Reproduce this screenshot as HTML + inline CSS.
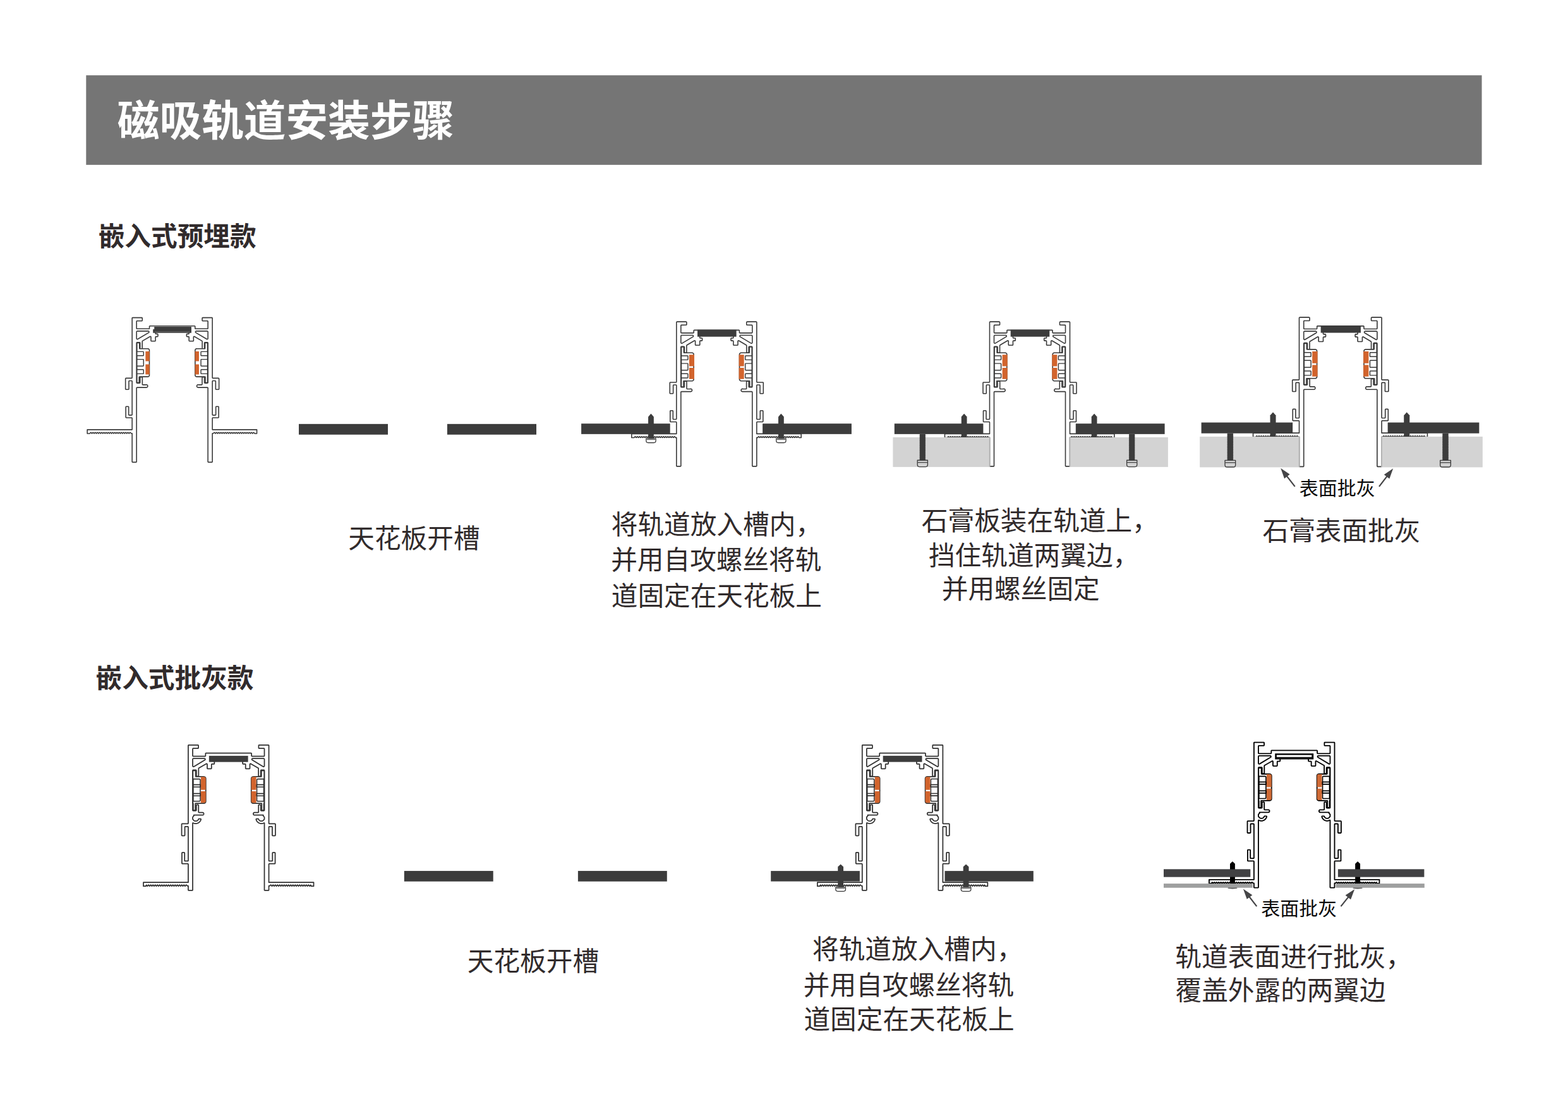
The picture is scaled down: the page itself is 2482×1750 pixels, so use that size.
<!DOCTYPE html>
<html lang="zh-CN"><head><meta charset="utf-8"><title>磁吸轨道安装步骤</title>
<style>
html,body{margin:0;padding:0;background:#fff;}
body{width:2482px;height:1750px;position:relative;overflow:hidden;font-family:"Liberation Sans","Noto Sans CJK SC",sans-serif;}
svg{position:absolute;left:0;top:0;}
svg text{font-family:"Liberation Sans","Noto Sans CJK SC",sans-serif;}
</style></head><body>
<svg width="2482" height="1750" viewBox="0 0 2482 1750">
<defs><g id="pA"><g fill="#fff" stroke="#3a3a3a" stroke-width="1.6" stroke-linejoin="round"><path d="M-73.96 96.22L-74 96.5L-74 112.5L-73.96 112.78L-73.83 113.03L-73.63 113.23L-73.38 113.36L-73.1 113.4L-69.6 113.4L-69.32 113.36L-69.07 113.23L-68.87 113.03L-68.74 112.78L-68.7 112.5L-68.7 100.64L-68.62 100.26L-68.48 100.02L-68.38 99.92L-68.14 99.78L-67.76 99.7L-64.37 99.71L-64.06 99.78L-63.82 99.92L-63.64 100.13L-63.58 100.26L-63.51 100.57L-63.5 153.16L-63.53 153.41L-63.64 153.67L-63.82 153.88L-64.06 154.02L-64.44 154.1L-68.13 154.09L-68.31 154.07L-68.57 153.96L-68.78 153.78L-68.86 153.67L-68.97 153.41L-69 153.16L-69 141.3L-69.04 141.02L-69.17 140.77L-69.37 140.57L-69.62 140.44L-69.9 140.4L-72.6 140.4L-72.88 140.44L-73.13 140.57L-73.33 140.77L-73.46 141.02L-73.5 141.3L-73.5 157.25L-73.46 157.53L-73.33 157.78L-73.13 157.98L-72.88 158.11L-72.6 158.15L-64.44 158.15L-64.19 158.18L-63.93 158.29L-63.72 158.47L-63.58 158.71L-63.5 159.09L-63.5 177.05L-134.46 177.05L-134.5 177.09L-134.5 183.11L-134.46 183.15L-130.55 183.14L-129.05 181.49L-128.91 181.41L-128.74 181.41L-128.6 181.49L-127.1 183.14L-125.6 181.49L-125.46 181.41L-125.29 181.41L-125.15 181.49L-123.65 183.14L-122.15 181.49L-122.01 181.41L-121.84 181.41L-121.7 181.49L-120.2 183.14L-118.7 181.49L-118.56 181.41L-118.39 181.41L-118.25 181.49L-116.75 183.14L-115.25 181.49L-115.11 181.41L-114.94 181.41L-114.8 181.49L-113.3 183.14L-111.8 181.49L-111.66 181.41L-111.49 181.41L-111.35 181.49L-109.85 183.14L-108.35 181.49L-108.21 181.41L-108.04 181.41L-107.9 181.49L-106.4 183.14L-104.9 181.49L-104.76 181.41L-104.59 181.41L-104.45 181.49L-102.95 183.14L-101.45 181.49L-101.31 181.41L-101.14 181.41L-101 181.49L-99.5 183.14L-98 181.49L-97.86 181.41L-97.69 181.41L-97.55 181.49L-96.05 183.14L-94.55 181.49L-94.41 181.41L-94.24 181.41L-94.1 181.49L-92.6 183.14L-91.1 181.49L-90.96 181.41L-90.79 181.41L-90.65 181.49L-89.15 183.14L-87.65 181.49L-87.51 181.41L-87.34 181.41L-87.2 181.49L-85.7 183.14L-84.2 181.49L-84.06 181.41L-83.89 181.41L-83.75 181.49L-82.25 183.14L-80.75 181.49L-80.61 181.41L-80.44 181.41L-80.3 181.49L-78.8 183.14L-77.3 181.49L-77.16 181.41L-76.99 181.41L-76.85 181.49L-75.35 183.14L-73.85 181.49L-73.71 181.41L-73.54 181.41L-73.4 181.49L-71.9 183.14L-70.4 181.49L-70.26 181.41L-70.09 181.41L-69.95 181.49L-68.45 183.14L-66.94 181.48L-66.8 181.4L-66.64 181.4L-66.5 181.48L-65 182.99L-63.5 183L-63.5 227.65L-63.46 227.93L-63.33 228.18L-63.13 228.38L-62.88 228.51L-62.6 228.55L-57.4 228.55L-57.12 228.51L-56.87 228.38L-56.67 228.18L-56.54 227.93L-56.5 227.65L-56.5 111.24L-56.47 110.99L-56.36 110.73L-56.18 110.52L-55.94 110.38L-55.56 110.3L-41.06 110.3L-40.55 110.24L-40.01 110.05L-39.81 109.93L-39.37 109.56L-39.05 109.09L-38.86 108.55L-38.82 108.22L-38.86 107.65L-39.05 107.11L-39.17 106.91L-39.54 106.47L-39.81 106.27L-40.32 106.02L-40.88 105.92L-41.12 105.92L-42.09 106.1L-46.36 106.1L-46.61 106.07L-46.87 105.96L-46.98 105.88L-47.16 105.67L-47.27 105.41L-47.3 105.16L-47.3 94.8L-47.34 94.52L-47.47 94.27L-47.67 94.07L-47.92 93.94L-48.2 93.9L-50 93.9L-50.28 93.94L-50.53 94.07L-50.73 94.27L-50.86 94.52L-50.9 94.8L-50.9 102.41L-50.98 102.79L-51.12 103.03L-51.22 103.13L-51.46 103.27L-51.84 103.35L-55.56 103.35L-55.94 103.27L-56.18 103.13L-56.36 102.92L-56.47 102.66L-56.5 102.41L-56.5 39.94L-56.47 39.69L-56.36 39.43L-56.18 39.22L-55.94 39.08L-55.56 39L-51.84 39L-51.46 39.08L-51.22 39.22L-51.12 39.32L-50.98 39.56L-50.9 39.94L-50.9 48L-50.86 48.28L-50.73 48.53L-50.53 48.73L-50.28 48.86L-50 48.9L-48.35 48.9L-48.07 48.86L-47.82 48.73L-47.62 48.53L-47.49 48.28L-47.45 48L-47.45 37.47L-47.41 37.2L-47.28 36.92L-46.97 36.63L-35.08 29.71L-34.87 29.62L-34.6 29.58L-34.21 29.67L-33.9 29.92L-33.73 30.27L-33.7 30.51L-33.7 36.05L-33.66 36.33L-33.53 36.58L-33.33 36.78L-33.08 36.91L-32.8 36.95L-27.46 36.95L-27.18 36.91L-26.93 36.78L-26.73 36.58L-26.6 36.33L-26.56 36.05L-26.56 30.74L-26.53 30.49L-26.42 30.23L-26.34 30.12L-26.13 29.94L-25.87 29.83L-25.69 29.81L-23.6 29.8L-23.32 29.76L-23.07 29.63L-22.87 29.43L-22.74 29.18L-22.7 28.9L-22.7 26.5L-22.74 26.22L-22.87 25.97L-23.07 25.77L-23.32 25.64L-23.6 25.6L-25.62 25.6L-25.87 25.57L-26.13 25.46L-26.24 25.38L-26.42 25.17L-26.48 25.04L-26.56 24.66L-26.55 20.87L-26.48 20.56L-26.34 20.32L-26.13 20.14L-25.87 20.03L-25.62 20L25.62 20L25.87 20.03L26.13 20.14L26.34 20.32L26.48 20.56L26.55 20.87L26.56 24.66L26.48 25.04L26.42 25.17L26.24 25.38L26.13 25.46L25.87 25.57L25.62 25.6L23.6 25.6L23.32 25.64L23.07 25.77L22.87 25.97L22.74 26.22L22.7 26.5L22.7 28.9L22.74 29.18L22.87 29.43L23.07 29.63L23.32 29.76L23.6 29.8L25.69 29.81L25.87 29.83L26.13 29.94L26.24 30.02L26.42 30.23L26.53 30.49L26.56 30.74L26.56 36.05L26.6 36.33L26.73 36.58L26.93 36.78L27.18 36.91L27.46 36.95L32.8 36.95L33.08 36.91L33.33 36.78L33.53 36.58L33.66 36.33L33.7 36.05L33.7 30.51L33.73 30.27L33.9 29.92L34.21 29.67L34.6 29.58L34.87 29.62L35.08 29.71L46.97 36.63L47.28 36.92L47.41 37.2L47.45 37.47L47.45 48L47.49 48.28L47.62 48.53L47.82 48.73L48.07 48.86L48.35 48.9L50 48.9L50.28 48.86L50.53 48.73L50.73 48.53L50.86 48.28L50.9 48L50.9 39.94L50.98 39.56L51.12 39.32L51.22 39.22L51.46 39.08L51.84 39L55.56 39L55.81 39.03L56.07 39.14L56.28 39.32L56.42 39.56L56.5 39.94L56.5 102.41L56.47 102.66L56.36 102.92L56.18 103.13L55.94 103.27L55.56 103.35L51.84 103.35L51.46 103.27L51.22 103.13L51.12 103.03L50.98 102.79L50.9 102.41L50.9 94.8L50.86 94.52L50.73 94.27L50.53 94.07L50.28 93.94L50 93.9L48.2 93.9L47.92 93.94L47.67 94.07L47.47 94.27L47.34 94.52L47.3 94.8L47.3 105.16L47.27 105.41L47.16 105.67L46.98 105.88L46.87 105.96L46.61 106.07L46.36 106.1L42.09 106.1L41.12 105.92L40.88 105.92L40.32 106.02L39.81 106.27L39.54 106.47L39.17 106.91L39.05 107.11L38.86 107.65L38.82 108.22L38.86 108.55L39.05 109.09L39.37 109.56L39.81 109.93L40.01 110.05L40.55 110.24L41.06 110.3L55.56 110.3L55.94 110.38L56.18 110.52L56.36 110.73L56.42 110.86L56.49 111.17L56.5 227.65L56.54 227.93L56.67 228.18L56.87 228.38L57.12 228.51L57.4 228.55L62.6 228.55L62.88 228.51L63.13 228.38L63.33 228.18L63.46 227.93L63.5 227.65L63.5 183L65 182.99L66.5 181.48L66.64 181.4L66.8 181.4L66.94 181.48L68.45 183.14L69.95 181.49L70.09 181.41L70.26 181.41L70.4 181.49L71.9 183.14L73.4 181.49L73.54 181.41L73.71 181.41L73.85 181.49L75.35 183.14L76.85 181.49L76.99 181.41L77.16 181.41L77.3 181.49L78.8 183.14L80.3 181.49L80.44 181.41L80.61 181.41L80.75 181.49L82.25 183.14L83.75 181.49L83.89 181.41L84.06 181.41L84.2 181.49L85.7 183.14L87.2 181.49L87.34 181.41L87.51 181.41L87.65 181.49L89.15 183.14L90.65 181.49L90.79 181.41L90.96 181.41L91.1 181.49L92.6 183.14L94.1 181.49L94.24 181.41L94.41 181.41L94.55 181.49L96.05 183.14L97.55 181.49L97.69 181.41L97.86 181.41L98 181.49L99.5 183.14L101 181.49L101.14 181.41L101.31 181.41L101.45 181.49L102.95 183.14L104.45 181.49L104.59 181.41L104.76 181.41L104.9 181.49L106.4 183.14L107.9 181.49L108.04 181.41L108.21 181.41L108.35 181.49L109.85 183.14L111.35 181.49L111.49 181.41L111.66 181.41L111.8 181.49L113.3 183.14L114.8 181.49L114.94 181.41L115.11 181.41L115.25 181.49L116.75 183.14L118.25 181.49L118.39 181.41L118.56 181.41L118.7 181.49L120.2 183.14L121.7 181.49L121.84 181.41L122.01 181.41L122.15 181.49L123.65 183.14L125.15 181.49L125.29 181.41L125.46 181.41L125.6 181.49L127.1 183.14L128.6 181.5L128.74 181.41L128.91 181.41L129.05 181.5L130.5 183.14L133.89 183.14L133.9 177.09L133.86 177.05L63.5 177.05L63.5 159.09L63.58 158.71L63.72 158.47L63.93 158.29L64.19 158.18L64.44 158.15L72.6 158.15L72.88 158.11L73.13 157.98L73.33 157.78L73.46 157.53L73.5 157.25L73.5 141.3L73.46 141.02L73.33 140.77L73.13 140.57L72.88 140.44L72.6 140.4L69.9 140.4L69.62 140.44L69.37 140.57L69.17 140.77L69.04 141.02L69 141.3L69 153.16L68.97 153.41L68.86 153.67L68.78 153.78L68.57 153.96L68.31 154.07L68.13 154.09L64.44 154.1L64.06 154.02L63.82 153.88L63.64 153.67L63.53 153.41L63.5 153.16L63.51 100.57L63.58 100.26L63.64 100.13L63.82 99.92L64.06 99.78L64.37 99.71L67.76 99.7L68.14 99.78L68.38 99.92L68.48 100.02L68.62 100.26L68.7 100.64L68.7 112.5L68.74 112.78L68.87 113.03L69.07 113.23L69.32 113.36L69.6 113.4L73.1 113.4L73.38 113.36L73.63 113.23L73.83 113.03L73.96 112.78L74 112.5L74 96.5L73.96 96.22L73.83 95.97L73.63 95.77L73.38 95.64L73.1 95.6L64.37 95.59L64.06 95.52L63.82 95.38L63.64 95.17L63.58 95.04L63.51 94.73L63.5 0.7L63.46 0.42L63.33 0.17L63.13 -0.03L62.88 -0.16L62.6 -0.2L48.35 -0.2L48.07 -0.16L47.82 -0.03L47.62 0.17L47.49 0.42L47.45 0.7L47.45 4.07L47.49 4.35L47.62 4.6L47.82 4.8L48.07 4.93L48.35 4.97L55.63 4.98L55.81 5L56.07 5.11L56.28 5.29L56.42 5.53L56.5 5.91L56.5 16.56L56.42 16.94L56.28 17.18L56.18 17.28L55.94 17.42L55.56 17.5L37.04 17.5L36.79 17.47L36.53 17.36L36.32 17.18L36.24 17.07L36.13 16.81L36.1 16.56L36.1 13.9L36.06 13.62L35.93 13.37L35.73 13.17L35.48 13.04L35.2 13L-35.2 13L-35.48 13.04L-35.73 13.17L-35.93 13.37L-36.06 13.62L-36.1 13.9L-36.1 16.56L-36.13 16.81L-36.24 17.07L-36.32 17.18L-36.53 17.36L-36.79 17.47L-37.04 17.5L-55.63 17.49L-55.94 17.42L-56.18 17.28L-56.28 17.18L-56.42 16.94L-56.5 16.56L-56.5 5.91L-56.42 5.53L-56.28 5.29L-56.07 5.11L-55.81 5L-55.63 4.98L-48.35 4.97L-48.07 4.93L-47.82 4.8L-47.62 4.6L-47.49 4.35L-47.45 4.07L-47.45 0.7L-47.49 0.42L-47.62 0.17L-47.82 -0.03L-48.07 -0.16L-48.35 -0.2L-62.6 -0.2L-62.88 -0.16L-63.13 -0.03L-63.33 0.17L-63.46 0.42L-63.5 0.7L-63.51 94.73L-63.58 95.04L-63.64 95.17L-63.82 95.38L-64.06 95.52L-64.37 95.59L-73.1 95.6L-73.38 95.64L-73.63 95.77L-73.83 95.97ZM-37.24 21.37L-36.95 21.67L-36.77 22.06L-36.73 22.47L-36.82 22.89L-37.04 23.25L-37.36 23.52L-54.54 33.73L-54.9 33.88L-55.29 33.91L-55.67 33.83L-56 33.64L-56.27 33.35L-56.44 33L-56.5 32.61L-56.5 22.4L-56.44 22L-56.25 21.64L-55.96 21.35L-55.6 21.16L-55.2 21.1L-38.03 21.1L-37.61 21.17ZM38.03 21.1L55.2 21.1L55.6 21.16L55.96 21.35L56.25 21.64L56.44 22L56.5 22.4L56.5 32.61L56.44 33L56.27 33.35L56 33.64L55.67 33.83L55.29 33.91L54.9 33.88L54.54 33.73L37.36 23.52L37.04 23.25L36.82 22.89L36.73 22.47L36.77 22.06L36.95 21.67L37.24 21.37L37.61 21.17Z"/><path d="M-55.4 39.7L-55.55 39.72L-55.69 39.8L-55.8 39.91L-55.88 40.05L-55.9 40.2L-55.9 102.3L-55.88 102.45L-55.8 102.59L-55.69 102.7L-55.55 102.78L-55.4 102.8L-52.9 102.8L-52.75 102.78L-52.61 102.7L-52.5 102.59L-52.42 102.45L-52.4 102.3L-52.4 93.87L-52.32 93.59L-52.16 93.43L-51.88 93.35L-38.76 93.34L-38.07 93.24L-37.34 92.89L-36.75 92.33L-36.36 91.62L-36.31 91.48L-36.2 90.71L-36.2 51.54L-36.31 50.77L-36.36 50.63L-36.75 49.92L-37.34 49.36L-38.07 49.01L-38.84 48.9L-51.38 48.9L-51.66 48.82L-51.82 48.66L-51.9 48.38L-51.9 40.2L-51.92 40.05L-52 39.91L-52.11 39.8L-52.25 39.72L-52.4 39.7ZM55.4 39.7L55.55 39.72L55.69 39.8L55.8 39.91L55.88 40.05L55.9 40.2L55.9 102.3L55.88 102.45L55.8 102.59L55.69 102.7L55.55 102.78L55.4 102.8L52.9 102.8L52.75 102.78L52.61 102.7L52.5 102.59L52.42 102.45L52.4 102.3L52.4 93.87L52.32 93.59L52.16 93.43L51.88 93.35L38.76 93.34L38.07 93.24L37.34 92.89L36.75 92.33L36.36 91.62L36.31 91.48L36.2 90.71L36.2 51.54L36.31 50.77L36.36 50.63L36.75 49.92L37.34 49.36L38.07 49.01L38.84 48.9L51.38 48.9L51.66 48.82L51.82 48.66L51.9 48.38L51.9 40.2L51.92 40.05L52 39.91L52.11 39.8L52.25 39.72L52.4 39.7Z"/><path d="M-45.4 54.4L-45.44 54.15L-45.55 53.93L-45.73 53.75L-45.95 53.64L-46.2 53.6L-55.1 53.6L-55.35 53.64L-55.57 53.75L-55.75 53.93L-55.86 54.15L-55.9 54.4L-55.9 59.2L-55.86 59.45L-55.75 59.67L-55.57 59.85L-55.35 59.96L-55.1 60L-46.2 60L-45.95 59.96L-45.73 59.85L-45.55 59.67L-45.44 59.45L-45.4 59.2ZM45.4 54.4L45.44 54.15L45.55 53.93L45.73 53.75L45.95 53.64L46.2 53.6L55.1 53.6L55.35 53.64L55.57 53.75L55.75 53.93L55.86 54.15L55.9 54.4L55.9 59.2L55.86 59.45L55.75 59.67L55.57 59.85L55.35 59.96L55.1 60L46.2 60L45.95 59.96L45.73 59.85L45.55 59.67L45.44 59.45L45.4 59.2ZM-45.4 66.6L-45.44 66.35L-45.55 66.13L-45.73 65.95L-45.95 65.84L-46.2 65.8L-55.1 65.8L-55.35 65.84L-55.57 65.95L-55.75 66.13L-55.86 66.35L-55.9 66.6L-55.9 75.6L-55.86 75.85L-55.75 76.07L-55.57 76.25L-55.35 76.36L-55.1 76.4L-46.2 76.4L-45.95 76.36L-45.73 76.25L-45.55 76.07L-45.44 75.85L-45.4 75.6ZM45.4 66.6L45.44 66.35L45.55 66.13L45.73 65.95L45.95 65.84L46.2 65.8L55.1 65.8L55.35 65.84L55.57 65.95L55.75 66.13L55.86 66.35L55.9 66.6L55.9 75.6L55.86 75.85L55.75 76.07L55.57 76.25L55.35 76.36L55.1 76.4L46.2 76.4L45.95 76.36L45.73 76.25L45.55 76.07L45.44 75.85L45.4 75.6ZM-45.4 82.75L-45.44 82.5L-45.55 82.28L-45.73 82.1L-45.95 81.99L-46.2 81.95L-55.1 81.95L-55.35 81.99L-55.57 82.1L-55.75 82.28L-55.86 82.5L-55.9 82.75L-55.9 87.8L-55.86 88.05L-55.75 88.27L-55.57 88.45L-55.35 88.56L-55.1 88.6L-46.2 88.6L-45.95 88.56L-45.73 88.45L-45.55 88.27L-45.44 88.05L-45.4 87.8ZM45.4 82.75L45.44 82.5L45.55 82.28L45.73 82.1L45.95 81.99L46.2 81.95L55.1 81.95L55.35 81.99L55.57 82.1L55.75 82.28L55.86 82.5L55.9 82.75L55.9 87.8L55.86 88.05L55.75 88.27L55.57 88.45L55.35 88.56L55.1 88.6L46.2 88.6L45.95 88.56L45.73 88.45L45.55 88.27L45.44 88.05L45.4 87.8Z" stroke-width="1.4400000000000002"/></g><path fill="#d2642d" d="M-36 53.3L-36 68.6L-42.3 68.6L-42.3 53.3ZM36 53.3L36 68.6L42.3 68.6L42.3 53.3ZM-36 73.6L-36 89.7L-42.3 89.7L-42.3 73.6ZM36 73.6L36 89.7L42.3 89.7L42.3 73.6Z"/><path fill="#3c3c3c" d="M-28.45 14.25H30.30V24.00H-30.45V18.25H-28.45Z"/><path d="M-27.85 22.00H27.70" stroke="#909090" stroke-width="0.55" fill="none"/></g><g id="pA2"><g fill="#fff" stroke="#3a3a3a" stroke-width="1.6" stroke-linejoin="round"><path d="M-73.96 96.22L-74 96.5L-74 112.5L-73.96 112.78L-73.83 113.03L-73.63 113.23L-73.38 113.36L-73.1 113.4L-69.6 113.4L-69.32 113.36L-69.07 113.23L-68.87 113.03L-68.74 112.78L-68.7 112.5L-68.7 100.64L-68.62 100.26L-68.48 100.02L-68.38 99.92L-68.14 99.78L-67.76 99.7L-64.37 99.71L-64.06 99.78L-63.82 99.92L-63.64 100.13L-63.58 100.26L-63.51 100.57L-63.5 153.16L-63.53 153.41L-63.64 153.67L-63.82 153.88L-64.06 154.02L-64.44 154.1L-68.13 154.09L-68.31 154.07L-68.57 153.96L-68.78 153.78L-68.86 153.67L-68.97 153.41L-69 153.16L-69 141.3L-69.04 141.02L-69.17 140.77L-69.37 140.57L-69.62 140.44L-69.9 140.4L-72.6 140.4L-72.88 140.44L-73.13 140.57L-73.33 140.77L-73.46 141.02L-73.5 141.3L-73.5 157.25L-73.46 157.53L-73.33 157.78L-73.13 157.98L-72.88 158.11L-72.6 158.15L-64.44 158.15L-64.19 158.18L-63.93 158.29L-63.72 158.47L-63.58 158.71L-63.5 159.09L-63.5 177.05L-134.46 177.05L-134.5 177.09L-134.5 183.11L-134.46 183.15L-130.55 183.14L-129.05 181.49L-128.91 181.41L-128.74 181.41L-128.6 181.49L-127.1 183.14L-125.6 181.49L-125.46 181.41L-125.29 181.41L-125.15 181.49L-123.65 183.14L-122.15 181.49L-122.01 181.41L-121.84 181.41L-121.7 181.49L-120.2 183.14L-118.7 181.49L-118.56 181.41L-118.39 181.41L-118.25 181.49L-116.75 183.14L-115.25 181.49L-115.11 181.41L-114.94 181.41L-114.8 181.49L-113.3 183.14L-111.8 181.49L-111.66 181.41L-111.49 181.41L-111.35 181.49L-109.85 183.14L-108.35 181.49L-108.21 181.41L-108.04 181.41L-107.9 181.49L-106.4 183.14L-104.9 181.49L-104.76 181.41L-104.59 181.41L-104.45 181.49L-102.95 183.14L-101.45 181.49L-101.31 181.41L-101.14 181.41L-101 181.49L-99.5 183.14L-98 181.49L-97.86 181.41L-97.69 181.41L-97.55 181.49L-96.05 183.14L-94.55 181.49L-94.41 181.41L-94.24 181.41L-94.1 181.49L-92.6 183.14L-91.1 181.49L-90.96 181.41L-90.79 181.41L-90.65 181.49L-89.15 183.14L-87.65 181.49L-87.51 181.41L-87.34 181.41L-87.2 181.49L-85.7 183.14L-84.2 181.49L-84.06 181.41L-83.89 181.41L-83.75 181.49L-82.25 183.14L-80.75 181.49L-80.61 181.41L-80.44 181.41L-80.3 181.49L-78.8 183.14L-77.3 181.49L-77.16 181.41L-76.99 181.41L-76.85 181.49L-75.35 183.14L-73.85 181.49L-73.71 181.41L-73.54 181.41L-73.4 181.49L-71.9 183.14L-70.4 181.49L-70.26 181.41L-70.09 181.41L-69.95 181.49L-68.45 183.14L-66.94 181.48L-66.8 181.4L-66.64 181.4L-66.5 181.48L-65 182.99L-63.5 183L-63.5 227.65L-63.46 227.93L-63.33 228.18L-63.13 228.38L-62.88 228.51L-62.6 228.55L-57.4 228.55L-57.12 228.51L-56.87 228.38L-56.67 228.18L-56.54 227.93L-56.5 227.65L-56.5 111.24L-56.47 110.99L-56.36 110.73L-56.18 110.52L-55.94 110.38L-55.56 110.3L-41.06 110.3L-40.55 110.24L-40.01 110.05L-39.81 109.93L-39.37 109.56L-39.05 109.09L-38.86 108.55L-38.82 108.22L-38.86 107.65L-39.05 107.11L-39.17 106.91L-39.54 106.47L-39.81 106.27L-40.32 106.02L-40.88 105.92L-41.12 105.92L-42.09 106.1L-46.36 106.1L-46.61 106.07L-46.87 105.96L-46.98 105.88L-47.16 105.67L-47.27 105.41L-47.3 105.16L-47.3 94.8L-47.34 94.52L-47.47 94.27L-47.67 94.07L-47.92 93.94L-48.2 93.9L-50 93.9L-50.28 93.94L-50.53 94.07L-50.73 94.27L-50.86 94.52L-50.9 94.8L-50.9 102.41L-50.98 102.79L-51.12 103.03L-51.22 103.13L-51.46 103.27L-51.84 103.35L-55.56 103.35L-55.94 103.27L-56.18 103.13L-56.36 102.92L-56.47 102.66L-56.5 102.41L-56.5 39.94L-56.47 39.69L-56.36 39.43L-56.18 39.22L-55.94 39.08L-55.56 39L-51.84 39L-51.46 39.08L-51.22 39.22L-51.12 39.32L-50.98 39.56L-50.9 39.94L-50.9 48L-50.86 48.28L-50.73 48.53L-50.53 48.73L-50.28 48.86L-50 48.9L-48.35 48.9L-48.07 48.86L-47.82 48.73L-47.62 48.53L-47.49 48.28L-47.45 48L-47.45 37.47L-47.41 37.2L-47.28 36.92L-46.97 36.63L-35.08 29.71L-34.87 29.62L-34.6 29.58L-34.21 29.67L-33.9 29.92L-33.73 30.27L-33.7 30.51L-33.7 36.05L-33.66 36.33L-33.53 36.58L-33.33 36.78L-33.08 36.91L-32.8 36.95L-27.46 36.95L-27.18 36.91L-26.93 36.78L-26.73 36.58L-26.6 36.33L-26.56 36.05L-26.56 30.74L-26.53 30.49L-26.42 30.23L-26.34 30.12L-26.13 29.94L-25.87 29.83L-25.69 29.81L-23.6 29.8L-23.32 29.76L-23.07 29.63L-22.87 29.43L-22.74 29.18L-22.7 28.9L-22.7 26.5L-22.74 26.22L-22.87 25.97L-23.07 25.77L-23.32 25.64L-23.6 25.6L-25.62 25.6L-25.87 25.57L-26.13 25.46L-26.24 25.38L-26.42 25.17L-26.48 25.04L-26.56 24.66L-26.55 20.87L-26.48 20.56L-26.34 20.32L-26.13 20.14L-25.87 20.03L-25.62 20L25.62 20L25.87 20.03L26.13 20.14L26.34 20.32L26.48 20.56L26.55 20.87L26.56 24.66L26.48 25.04L26.42 25.17L26.24 25.38L26.13 25.46L25.87 25.57L25.62 25.6L23.6 25.6L23.32 25.64L23.07 25.77L22.87 25.97L22.74 26.22L22.7 26.5L22.7 28.9L22.74 29.18L22.87 29.43L23.07 29.63L23.32 29.76L23.6 29.8L25.69 29.81L25.87 29.83L26.13 29.94L26.24 30.02L26.42 30.23L26.53 30.49L26.56 30.74L26.56 36.05L26.6 36.33L26.73 36.58L26.93 36.78L27.18 36.91L27.46 36.95L32.8 36.95L33.08 36.91L33.33 36.78L33.53 36.58L33.66 36.33L33.7 36.05L33.7 30.51L33.73 30.27L33.9 29.92L34.21 29.67L34.6 29.58L34.87 29.62L35.08 29.71L46.97 36.63L47.28 36.92L47.41 37.2L47.45 37.47L47.45 48L47.49 48.28L47.62 48.53L47.82 48.73L48.07 48.86L48.35 48.9L50 48.9L50.28 48.86L50.53 48.73L50.73 48.53L50.86 48.28L50.9 48L50.9 39.94L50.98 39.56L51.12 39.32L51.22 39.22L51.46 39.08L51.84 39L55.56 39L55.81 39.03L56.07 39.14L56.28 39.32L56.42 39.56L56.5 39.94L56.5 102.41L56.47 102.66L56.36 102.92L56.18 103.13L55.94 103.27L55.56 103.35L51.84 103.35L51.46 103.27L51.22 103.13L51.12 103.03L50.98 102.79L50.9 102.41L50.9 94.8L50.86 94.52L50.73 94.27L50.53 94.07L50.28 93.94L50 93.9L48.2 93.9L47.92 93.94L47.67 94.07L47.47 94.27L47.34 94.52L47.3 94.8L47.3 105.16L47.27 105.41L47.16 105.67L46.98 105.88L46.87 105.96L46.61 106.07L46.36 106.1L42.09 106.1L41.12 105.92L40.88 105.92L40.32 106.02L39.81 106.27L39.54 106.47L39.17 106.91L39.05 107.11L38.86 107.65L38.82 108.22L38.86 108.55L39.05 109.09L39.37 109.56L39.81 109.93L40.01 110.05L40.55 110.24L41.06 110.3L55.56 110.3L55.94 110.38L56.18 110.52L56.36 110.73L56.42 110.86L56.49 111.17L56.5 227.65L56.54 227.93L56.67 228.18L56.87 228.38L57.12 228.51L57.4 228.55L62.6 228.55L62.88 228.51L63.13 228.38L63.33 228.18L63.46 227.93L63.5 227.65L63.5 183L65 182.99L66.5 181.48L66.64 181.4L66.8 181.4L66.94 181.48L68.45 183.14L69.95 181.49L70.09 181.41L70.26 181.41L70.4 181.49L71.9 183.14L73.4 181.49L73.54 181.41L73.71 181.41L73.85 181.49L75.35 183.14L76.85 181.49L76.99 181.41L77.16 181.41L77.3 181.49L78.8 183.14L80.3 181.49L80.44 181.41L80.61 181.41L80.75 181.49L82.25 183.14L83.75 181.49L83.89 181.41L84.06 181.41L84.2 181.49L85.7 183.14L87.2 181.49L87.34 181.41L87.51 181.41L87.65 181.49L89.15 183.14L90.65 181.49L90.79 181.41L90.96 181.41L91.1 181.49L92.6 183.14L94.1 181.49L94.24 181.41L94.41 181.41L94.55 181.49L96.05 183.14L97.55 181.49L97.69 181.41L97.86 181.41L98 181.49L99.5 183.14L101 181.49L101.14 181.41L101.31 181.41L101.45 181.49L102.95 183.14L104.45 181.49L104.59 181.41L104.76 181.41L104.9 181.49L106.4 183.14L107.9 181.49L108.04 181.41L108.21 181.41L108.35 181.49L109.85 183.14L111.35 181.49L111.49 181.41L111.66 181.41L111.8 181.49L113.3 183.14L114.8 181.49L114.94 181.41L115.11 181.41L115.25 181.49L116.75 183.14L118.25 181.49L118.39 181.41L118.56 181.41L118.7 181.49L120.2 183.14L121.7 181.49L121.84 181.41L122.01 181.41L122.15 181.49L123.65 183.14L125.15 181.49L125.29 181.41L125.46 181.41L125.6 181.49L127.1 183.14L128.6 181.5L128.74 181.41L128.91 181.41L129.05 181.5L130.5 183.14L133.89 183.14L133.9 177.09L133.86 177.05L63.5 177.05L63.5 159.09L63.58 158.71L63.72 158.47L63.93 158.29L64.19 158.18L64.44 158.15L72.6 158.15L72.88 158.11L73.13 157.98L73.33 157.78L73.46 157.53L73.5 157.25L73.5 141.3L73.46 141.02L73.33 140.77L73.13 140.57L72.88 140.44L72.6 140.4L69.9 140.4L69.62 140.44L69.37 140.57L69.17 140.77L69.04 141.02L69 141.3L69 153.16L68.97 153.41L68.86 153.67L68.78 153.78L68.57 153.96L68.31 154.07L68.13 154.09L64.44 154.1L64.06 154.02L63.82 153.88L63.64 153.67L63.53 153.41L63.5 153.16L63.51 100.57L63.58 100.26L63.64 100.13L63.82 99.92L64.06 99.78L64.37 99.71L67.76 99.7L68.14 99.78L68.38 99.92L68.48 100.02L68.62 100.26L68.7 100.64L68.7 112.5L68.74 112.78L68.87 113.03L69.07 113.23L69.32 113.36L69.6 113.4L73.1 113.4L73.38 113.36L73.63 113.23L73.83 113.03L73.96 112.78L74 112.5L74 96.5L73.96 96.22L73.83 95.97L73.63 95.77L73.38 95.64L73.1 95.6L64.37 95.59L64.06 95.52L63.82 95.38L63.64 95.17L63.58 95.04L63.51 94.73L63.5 0.7L63.46 0.42L63.33 0.17L63.13 -0.03L62.88 -0.16L62.6 -0.2L48.35 -0.2L48.07 -0.16L47.82 -0.03L47.62 0.17L47.49 0.42L47.45 0.7L47.45 4.07L47.49 4.35L47.62 4.6L47.82 4.8L48.07 4.93L48.35 4.97L55.63 4.98L55.81 5L56.07 5.11L56.28 5.29L56.42 5.53L56.5 5.91L56.5 16.56L56.42 16.94L56.28 17.18L56.18 17.28L55.94 17.42L55.56 17.5L37.04 17.5L36.79 17.47L36.53 17.36L36.32 17.18L36.24 17.07L36.13 16.81L36.1 16.56L36.1 13.9L36.06 13.62L35.93 13.37L35.73 13.17L35.48 13.04L35.2 13L-35.2 13L-35.48 13.04L-35.73 13.17L-35.93 13.37L-36.06 13.62L-36.1 13.9L-36.1 16.56L-36.13 16.81L-36.24 17.07L-36.32 17.18L-36.53 17.36L-36.79 17.47L-37.04 17.5L-55.63 17.49L-55.94 17.42L-56.18 17.28L-56.28 17.18L-56.42 16.94L-56.5 16.56L-56.5 5.91L-56.42 5.53L-56.28 5.29L-56.07 5.11L-55.81 5L-55.63 4.98L-48.35 4.97L-48.07 4.93L-47.82 4.8L-47.62 4.6L-47.49 4.35L-47.45 4.07L-47.45 0.7L-47.49 0.42L-47.62 0.17L-47.82 -0.03L-48.07 -0.16L-48.35 -0.2L-62.6 -0.2L-62.88 -0.16L-63.13 -0.03L-63.33 0.17L-63.46 0.42L-63.5 0.7L-63.51 94.73L-63.58 95.04L-63.64 95.17L-63.82 95.38L-64.06 95.52L-64.37 95.59L-73.1 95.6L-73.38 95.64L-73.63 95.77L-73.83 95.97ZM-37.24 21.37L-36.95 21.67L-36.77 22.06L-36.73 22.47L-36.82 22.89L-37.04 23.25L-37.36 23.52L-54.54 33.73L-54.9 33.88L-55.29 33.91L-55.67 33.83L-56 33.64L-56.27 33.35L-56.44 33L-56.5 32.61L-56.5 22.4L-56.44 22L-56.25 21.64L-55.96 21.35L-55.6 21.16L-55.2 21.1L-38.03 21.1L-37.61 21.17ZM38.03 21.1L55.2 21.1L55.6 21.16L55.96 21.35L56.25 21.64L56.44 22L56.5 22.4L56.5 32.61L56.44 33L56.27 33.35L56 33.64L55.67 33.83L55.29 33.91L54.9 33.88L54.54 33.73L37.36 23.52L37.04 23.25L36.82 22.89L36.73 22.47L36.77 22.06L36.95 21.67L37.24 21.37L37.61 21.17Z"/><path d="M-55.4 39.7L-55.55 39.72L-55.69 39.8L-55.8 39.91L-55.88 40.05L-55.9 40.2L-55.9 102.3L-55.88 102.45L-55.8 102.59L-55.69 102.7L-55.55 102.78L-55.4 102.8L-52.9 102.8L-52.75 102.78L-52.61 102.7L-52.5 102.59L-52.42 102.45L-52.4 102.3L-52.4 93.87L-52.32 93.59L-52.16 93.43L-51.88 93.35L-38.76 93.34L-38.07 93.24L-37.34 92.89L-36.75 92.33L-36.36 91.62L-36.31 91.48L-36.2 90.71L-36.2 51.54L-36.31 50.77L-36.36 50.63L-36.75 49.92L-37.34 49.36L-38.07 49.01L-38.84 48.9L-51.38 48.9L-51.66 48.82L-51.82 48.66L-51.9 48.38L-51.9 40.2L-51.92 40.05L-52 39.91L-52.11 39.8L-52.25 39.72L-52.4 39.7ZM55.4 39.7L55.55 39.72L55.69 39.8L55.8 39.91L55.88 40.05L55.9 40.2L55.9 102.3L55.88 102.45L55.8 102.59L55.69 102.7L55.55 102.78L55.4 102.8L52.9 102.8L52.75 102.78L52.61 102.7L52.5 102.59L52.42 102.45L52.4 102.3L52.4 93.87L52.32 93.59L52.16 93.43L51.88 93.35L38.76 93.34L38.07 93.24L37.34 92.89L36.75 92.33L36.36 91.62L36.31 91.48L36.2 90.71L36.2 51.54L36.31 50.77L36.36 50.63L36.75 49.92L37.34 49.36L38.07 49.01L38.84 48.9L51.38 48.9L51.66 48.82L51.82 48.66L51.9 48.38L51.9 40.2L51.92 40.05L52 39.91L52.11 39.8L52.25 39.72L52.4 39.7Z"/><path d="M-45.4 54.4L-45.44 54.15L-45.55 53.93L-45.73 53.75L-45.95 53.64L-46.2 53.6L-55.1 53.6L-55.35 53.64L-55.57 53.75L-55.75 53.93L-55.86 54.15L-55.9 54.4L-55.9 59.2L-55.86 59.45L-55.75 59.67L-55.57 59.85L-55.35 59.96L-55.1 60L-46.2 60L-45.95 59.96L-45.73 59.85L-45.55 59.67L-45.44 59.45L-45.4 59.2ZM45.4 54.4L45.44 54.15L45.55 53.93L45.73 53.75L45.95 53.64L46.2 53.6L55.1 53.6L55.35 53.64L55.57 53.75L55.75 53.93L55.86 54.15L55.9 54.4L55.9 59.2L55.86 59.45L55.75 59.67L55.57 59.85L55.35 59.96L55.1 60L46.2 60L45.95 59.96L45.73 59.85L45.55 59.67L45.44 59.45L45.4 59.2ZM-45.4 66.6L-45.44 66.35L-45.55 66.13L-45.73 65.95L-45.95 65.84L-46.2 65.8L-55.1 65.8L-55.35 65.84L-55.57 65.95L-55.75 66.13L-55.86 66.35L-55.9 66.6L-55.9 75.6L-55.86 75.85L-55.75 76.07L-55.57 76.25L-55.35 76.36L-55.1 76.4L-46.2 76.4L-45.95 76.36L-45.73 76.25L-45.55 76.07L-45.44 75.85L-45.4 75.6ZM45.4 66.6L45.44 66.35L45.55 66.13L45.73 65.95L45.95 65.84L46.2 65.8L55.1 65.8L55.35 65.84L55.57 65.95L55.75 66.13L55.86 66.35L55.9 66.6L55.9 75.6L55.86 75.85L55.75 76.07L55.57 76.25L55.35 76.36L55.1 76.4L46.2 76.4L45.95 76.36L45.73 76.25L45.55 76.07L45.44 75.85L45.4 75.6ZM-45.4 82.75L-45.44 82.5L-45.55 82.28L-45.73 82.1L-45.95 81.99L-46.2 81.95L-55.1 81.95L-55.35 81.99L-55.57 82.1L-55.75 82.28L-55.86 82.5L-55.9 82.75L-55.9 87.8L-55.86 88.05L-55.75 88.27L-55.57 88.45L-55.35 88.56L-55.1 88.6L-46.2 88.6L-45.95 88.56L-45.73 88.45L-45.55 88.27L-45.44 88.05L-45.4 87.8ZM45.4 82.75L45.44 82.5L45.55 82.28L45.73 82.1L45.95 81.99L46.2 81.95L55.1 81.95L55.35 81.99L55.57 82.1L55.75 82.28L55.86 82.5L55.9 82.75L55.9 87.8L55.86 88.05L55.75 88.27L55.57 88.45L55.35 88.56L55.1 88.6L46.2 88.6L45.95 88.56L45.73 88.45L45.55 88.27L45.44 88.05L45.4 87.8Z" stroke-width="1.4400000000000002"/></g><path fill="#d2642d" d="M-35.3 51.9L-35.3 70.1L-43.4 70.1L-43.4 51.9ZM35.3 51.9L35.3 70.1L43.4 70.1L43.4 51.9ZM-35.3 72.7L-35.3 90.5L-43.4 90.5L-43.4 72.7ZM35.3 72.7L35.3 90.5L43.4 90.5L43.4 72.7Z"/><rect x="-30.30" y="12.30" width="61.60" height="11.10" fill="#3c3c3c"/></g><g id="pB"><g fill="#fff" stroke="#313131" stroke-width="1.75" stroke-linejoin="round"><path d="M-56.29 113.46L-55.68 112.49L-55.31 112.08L-54.91 111.73L-54.78 111.56L-54.7 111.37L-54.68 111.16L-54.72 110.95L-54.82 110.77L-55.03 110.6L-41.26 110.6L-40.79 110.55L-40.28 110.37L-39.84 110.07L-39.68 109.91L-39.38 109.47L-39.27 109.19L-39.2 108.96L-39.17 108.43L-39.27 107.91L-39.38 107.63L-39.68 107.19L-40.08 106.85L-40.56 106.62L-40.79 106.55L-41.26 106.5L-46.63 106.49L-46.81 106.47L-47.07 106.36L-47.18 106.28L-47.36 106.07L-47.47 105.81L-47.5 105.56L-47.5 95.15L-47.54 94.87L-47.67 94.62L-47.87 94.42L-48.12 94.29L-48.4 94.25L-50.1 94.25L-50.38 94.29L-50.63 94.42L-50.83 94.62L-50.96 94.87L-51 95.15L-51 102.76L-51.08 103.14L-51.22 103.38L-51.32 103.48L-51.56 103.62L-51.94 103.7L-55.81 103.7L-56.19 103.62L-56.43 103.48L-56.61 103.27L-56.72 103.01L-56.75 102.76L-56.75 40.24L-56.72 39.99L-56.61 39.73L-56.43 39.52L-56.32 39.44L-56.06 39.33L-55.81 39.3L-51.89 39.3L-51.51 39.38L-51.27 39.52L-51.17 39.62L-51.03 39.86L-50.95 40.24L-50.95 48.4L-50.91 48.68L-50.78 48.93L-50.58 49.13L-50.33 49.26L-50.05 49.3L-48.3 49.3L-48.02 49.26L-47.77 49.13L-47.57 48.93L-47.44 48.68L-47.4 48.4L-47.4 36.89L-47.28 36.51L-47.11 36.3L-46.92 36.16L-35.14 29.42L-34.92 29.33L-34.66 29.29L-34.39 29.33L-34.05 29.53L-33.83 29.86L-33.76 30.15L-33.76 36.35L-33.72 36.63L-33.59 36.88L-33.39 37.08L-33.14 37.21L-32.86 37.25L-27.85 37.25L-27.57 37.21L-27.32 37.08L-27.12 36.88L-26.99 36.63L-26.95 36.35L-26.95 30.74L-26.87 30.36L-26.81 30.23L-26.63 30.02L-26.52 29.94L-26.26 29.83L-26.01 29.8L-23.3 29.8L-23.02 29.76L-22.77 29.63L-22.57 29.43L-22.44 29.18L-22.4 28.9L-22.4 24.94L-22.37 24.69L-22.26 24.43L-22.08 24.22L-21.84 24.08L-21.46 24L21.46 24L21.84 24.08L22.08 24.22L22.26 24.43L22.37 24.69L22.39 24.87L22.4 28.9L22.44 29.18L22.57 29.43L22.77 29.63L23.02 29.76L23.3 29.8L26.01 29.8L26.26 29.83L26.52 29.94L26.63 30.02L26.81 30.23L26.87 30.36L26.95 30.74L26.95 36.35L26.99 36.63L27.12 36.88L27.32 37.08L27.57 37.21L27.85 37.25L32.86 37.25L33.14 37.21L33.39 37.08L33.59 36.88L33.72 36.63L33.76 36.35L33.76 30.15L33.83 29.86L34.05 29.53L34.39 29.33L34.66 29.29L34.92 29.33L35.14 29.42L46.92 36.16L47.11 36.3L47.28 36.51L47.4 36.89L47.4 48.4L47.44 48.68L47.57 48.93L47.77 49.13L48.02 49.26L48.3 49.3L50.05 49.3L50.33 49.26L50.58 49.13L50.78 48.93L50.91 48.68L50.95 48.4L50.95 40.24L51.03 39.86L51.17 39.62L51.27 39.52L51.51 39.38L51.89 39.3L55.81 39.3L56.06 39.33L56.32 39.44L56.53 39.62L56.61 39.73L56.72 39.99L56.75 40.24L56.75 102.76L56.72 103.01L56.61 103.27L56.43 103.48L56.19 103.62L55.81 103.7L51.94 103.7L51.56 103.62L51.32 103.48L51.22 103.38L51.08 103.14L51 102.76L51 95.15L50.96 94.87L50.83 94.62L50.63 94.42L50.38 94.29L50.1 94.25L48.4 94.25L48.12 94.29L47.87 94.42L47.67 94.62L47.54 94.87L47.5 95.15L47.5 105.56L47.47 105.81L47.36 106.07L47.18 106.28L47.07 106.36L46.81 106.47L46.63 106.49L41.26 106.5L40.79 106.55L40.56 106.62L40.28 106.73L39.84 107.03L39.5 107.43L39.27 107.91L39.17 108.43L39.17 108.67L39.2 108.96L39.38 109.47L39.68 109.91L39.84 110.07L40.28 110.37L40.56 110.48L41.14 110.59L55.03 110.6L54.82 110.77L54.72 110.95L54.68 111.16L54.7 111.37L54.78 111.56L54.91 111.73L55.31 112.08L55.69 112.51L56.29 113.46L56.45 113.59L56.65 113.67L56.75 113.67L56.75 117.13L56.65 117.13L56.45 117.21L56.29 117.34L55.69 118.29L55.28 118.75L54.85 119.13L54.28 119.51L53.75 119.77L53.2 119.95L52.53 120.08L51.94 120.12L51.37 120.08L50.7 119.94L50.13 119.75L49.62 119.5L49.07 119.13L48.59 118.7L48.23 118.29L47.9 117.8L47.45 116.88L47.3 116.73L47.1 116.63L46.89 116.6L44.3 116.6L44.1 116.63L43.91 116.72L43.76 116.86L43.66 117.03L43.61 117.23L43.67 117.67L44.03 118.73L44.54 119.74L45.17 120.67L45.91 121.51L46.76 122.25L47.7 122.87L48.63 123.33L49.69 123.69L50.79 123.92L52.01 124L53.04 123.93L54.14 123.72L55.21 123.36L56.08 122.96L56.25 122.94L56.63 123.08L56.75 123.1L56.75 228.9L56.79 229.18L56.92 229.43L57.12 229.63L57.37 229.76L57.65 229.8L62.9 229.8L63.18 229.76L63.43 229.63L63.63 229.43L63.76 229.18L63.8 228.9L63.8 222.6L65.24 222.6L65.34 222.56L66.81 221.13L66.96 221.05L67.12 221.06L67.26 221.16L68.8 223.08L70.32 221.2L70.46 221.1L70.64 221.1L70.78 221.2L72.3 223.08L73.82 221.2L73.96 221.1L74.14 221.1L74.28 221.2L75.8 223.08L77.32 221.2L77.46 221.1L77.64 221.1L77.78 221.2L79.3 223.08L80.82 221.2L80.96 221.1L81.14 221.1L81.28 221.2L82.8 223.08L84.32 221.2L84.46 221.1L84.64 221.1L84.78 221.2L86.3 223.08L87.82 221.2L87.96 221.1L88.14 221.1L88.28 221.2L89.8 223.08L91.32 221.2L91.46 221.1L91.64 221.1L91.78 221.2L93.3 223.08L94.82 221.2L94.96 221.1L95.14 221.1L95.28 221.2L96.8 223.08L98.32 221.2L98.46 221.1L98.64 221.1L98.78 221.2L100.3 223.08L101.82 221.2L101.96 221.1L102.14 221.1L102.28 221.2L103.8 223.08L105.32 221.2L105.46 221.1L105.64 221.1L105.78 221.2L107.3 223.08L108.82 221.2L108.96 221.1L109.14 221.1L109.28 221.2L110.8 223.08L112.32 221.2L112.46 221.1L112.64 221.1L112.78 221.2L114.3 223.08L115.82 221.2L115.96 221.1L116.14 221.1L116.28 221.2L117.8 223.08L119.32 221.2L119.46 221.1L119.64 221.1L119.78 221.2L121.3 223.08L122.82 221.2L122.96 221.1L123.14 221.1L123.28 221.2L124.8 223.08L126.32 221.2L126.46 221.1L126.64 221.1L126.78 221.2L128.3 223.08L129.7 221.34L129.83 221.25L129.99 221.23L130.13 221.3L130.22 221.44L130.76 223.09L134.74 223.09L134.75 217.09L134.71 217.05L63.8 217.05L63.8 188.54L63.88 188.16L64.02 187.92L64.23 187.74L64.49 187.63L64.74 187.6L72.9 187.6L73.18 187.56L73.43 187.43L73.63 187.23L73.76 186.98L73.8 186.7L73.8 170.7L73.76 170.42L73.63 170.17L73.43 169.97L73.18 169.84L72.9 169.8L70.45 169.8L70.17 169.84L69.92 169.97L69.72 170.17L69.59 170.42L69.55 170.7L69.55 182.46L69.52 182.71L69.41 182.97L69.33 183.08L69.12 183.26L68.86 183.37L68.68 183.39L64.74 183.4L64.36 183.32L64.12 183.18L63.94 182.97L63.83 182.71L63.8 182.46L63.81 129.57L63.88 129.26L64.02 129.02L64.23 128.84L64.36 128.78L64.67 128.71L68.33 128.71L68.51 128.73L68.77 128.84L68.98 129.02L69.06 129.13L69.17 129.39L69.2 129.64L69.2 142.3L69.24 142.58L69.37 142.83L69.57 143.03L69.82 143.16L70.1 143.2L73.3 143.2L73.58 143.16L73.83 143.03L74.03 142.83L74.16 142.58L74.2 142.3L74.2 125.2L74.16 124.92L74.03 124.67L73.83 124.47L73.58 124.34L73.3 124.3L64.67 124.29L64.36 124.22L64.12 124.08L64.02 123.98L63.88 123.74L63.81 123.43L63.8 0.65L63.76 0.37L63.63 0.12L63.43 -0.08L63.18 -0.21L62.9 -0.25L48.6 -0.25L48.32 -0.21L48.07 -0.08L47.87 0.12L47.74 0.37L47.7 0.65L47.7 4.15L47.74 4.43L47.87 4.68L48.07 4.88L48.32 5.01L48.6 5.05L55.88 5.06L56.06 5.08L56.32 5.19L56.53 5.37L56.67 5.61L56.75 5.99L56.75 16.56L56.67 16.94L56.53 17.18L56.43 17.28L56.19 17.42L55.81 17.5L37.34 17.5L37.09 17.47L36.83 17.36L36.62 17.18L36.54 17.07L36.43 16.81L36.4 16.56L36.4 13.5L36.36 13.22L36.23 12.97L36.03 12.77L35.78 12.64L35.5 12.6L-35.5 12.6L-35.78 12.64L-36.03 12.77L-36.23 12.97L-36.36 13.22L-36.4 13.5L-36.4 16.56L-36.43 16.81L-36.54 17.07L-36.62 17.18L-36.83 17.36L-37.09 17.47L-37.34 17.5L-55.88 17.49L-56.19 17.42L-56.43 17.28L-56.53 17.18L-56.67 16.94L-56.75 16.56L-56.75 5.99L-56.67 5.61L-56.53 5.37L-56.32 5.19L-56.06 5.08L-55.88 5.06L-48.6 5.05L-48.32 5.01L-48.07 4.88L-47.87 4.68L-47.74 4.43L-47.7 4.15L-47.7 0.65L-47.74 0.37L-47.87 0.12L-48.07 -0.08L-48.32 -0.21L-48.6 -0.25L-62.9 -0.25L-63.18 -0.21L-63.43 -0.08L-63.63 0.12L-63.76 0.37L-63.8 0.65L-63.81 123.43L-63.88 123.74L-64.02 123.98L-64.12 124.08L-64.36 124.22L-64.67 124.29L-73.3 124.3L-73.58 124.34L-73.83 124.47L-74.03 124.67L-74.16 124.92L-74.2 125.2L-74.2 142.3L-74.16 142.58L-74.03 142.83L-73.83 143.03L-73.58 143.16L-73.3 143.2L-70.1 143.2L-69.82 143.16L-69.57 143.03L-69.37 142.83L-69.24 142.58L-69.2 142.3L-69.2 129.64L-69.17 129.39L-69.06 129.13L-68.98 129.02L-68.77 128.84L-68.51 128.73L-68.33 128.71L-64.67 128.71L-64.36 128.78L-64.23 128.84L-64.02 129.02L-63.88 129.26L-63.81 129.57L-63.8 182.46L-63.83 182.71L-63.94 182.97L-64.12 183.18L-64.36 183.32L-64.74 183.4L-68.68 183.39L-68.86 183.37L-69.12 183.26L-69.33 183.08L-69.41 182.97L-69.52 182.71L-69.55 182.46L-69.55 170.7L-69.59 170.42L-69.72 170.17L-69.92 169.97L-70.17 169.84L-70.45 169.8L-72.9 169.8L-73.18 169.84L-73.43 169.97L-73.63 170.17L-73.76 170.42L-73.8 170.7L-73.8 186.7L-73.76 186.98L-73.63 187.23L-73.43 187.43L-73.18 187.56L-72.9 187.6L-64.74 187.6L-64.49 187.63L-64.23 187.74L-64.02 187.92L-63.88 188.16L-63.8 188.54L-63.8 217.05L-134.71 217.05L-134.75 217.09L-134.74 223.09L-130.76 223.09L-130.22 221.44L-130.13 221.3L-129.99 221.23L-129.83 221.25L-129.7 221.34L-128.3 223.08L-126.78 221.2L-126.64 221.1L-126.46 221.1L-126.32 221.2L-124.8 223.08L-123.28 221.2L-123.14 221.1L-122.96 221.1L-122.82 221.2L-121.3 223.08L-119.78 221.2L-119.64 221.1L-119.46 221.1L-119.32 221.2L-117.8 223.08L-116.28 221.2L-116.14 221.1L-115.96 221.1L-115.82 221.2L-114.3 223.08L-112.78 221.2L-112.64 221.1L-112.46 221.1L-112.32 221.2L-110.8 223.08L-109.28 221.2L-109.14 221.1L-108.96 221.1L-108.82 221.2L-107.3 223.08L-105.78 221.2L-105.64 221.1L-105.46 221.1L-105.32 221.2L-103.8 223.08L-102.28 221.2L-102.14 221.1L-101.96 221.1L-101.82 221.2L-100.3 223.08L-98.78 221.2L-98.64 221.1L-98.46 221.1L-98.32 221.2L-96.8 223.08L-95.28 221.2L-95.14 221.1L-94.96 221.1L-94.82 221.2L-93.3 223.08L-91.78 221.2L-91.64 221.1L-91.46 221.1L-91.32 221.2L-89.8 223.08L-88.28 221.2L-88.14 221.1L-87.96 221.1L-87.82 221.2L-86.3 223.08L-84.78 221.2L-84.64 221.1L-84.46 221.1L-84.32 221.2L-82.8 223.08L-81.28 221.2L-81.14 221.1L-80.96 221.1L-80.82 221.2L-79.3 223.08L-77.78 221.2L-77.64 221.1L-77.46 221.1L-77.32 221.2L-75.8 223.08L-74.28 221.2L-74.14 221.1L-73.96 221.1L-73.82 221.2L-72.3 223.08L-70.78 221.2L-70.64 221.1L-70.46 221.1L-70.32 221.2L-68.8 223.08L-67.26 221.16L-67.12 221.06L-66.96 221.05L-66.81 221.13L-65.34 222.56L-65.24 222.6L-63.8 222.6L-63.8 228.9L-63.76 229.18L-63.63 229.43L-63.43 229.63L-63.18 229.76L-62.9 229.8L-57.65 229.8L-57.37 229.76L-57.12 229.63L-56.92 229.43L-56.79 229.18L-56.75 228.9L-56.75 123.1L-56.63 123.08L-56.25 122.94L-56.08 122.96L-55.21 123.36L-54.14 123.72L-53.04 123.93L-52.01 124L-50.79 123.92L-49.69 123.69L-48.63 123.33L-47.7 122.87L-46.76 122.25L-45.91 121.51L-45.17 120.67L-44.54 119.74L-44.03 118.73L-43.67 117.67L-43.61 117.23L-43.66 117.03L-43.76 116.86L-43.91 116.72L-44.1 116.63L-44.3 116.6L-46.89 116.6L-47.1 116.63L-47.3 116.73L-47.45 116.88L-47.9 117.8L-48.23 118.29L-48.59 118.7L-49.07 119.13L-49.62 119.5L-50.13 119.75L-50.7 119.94L-51.37 120.08L-51.94 120.12L-52.53 120.08L-53.22 119.94L-53.79 119.75L-54.28 119.51L-54.85 119.13L-55.28 118.75L-55.69 118.29L-56.29 117.34L-56.45 117.21L-56.65 117.13L-56.75 117.13L-56.75 113.67L-56.65 113.67L-56.45 113.59ZM-37.41 21.32L-37.12 21.62L-36.94 22L-36.9 22.42L-36.99 22.83L-37.2 23.19L-37.52 23.46L-54.78 33.82L-55.14 33.97L-55.53 34L-55.91 33.92L-56.25 33.73L-56.52 33.44L-56.69 33.09L-56.75 32.7L-56.75 22.35L-56.69 21.95L-56.5 21.59L-56.21 21.3L-55.85 21.11L-55.45 21.05L-38.19 21.05L-37.78 21.12ZM38.19 21.05L55.45 21.05L55.85 21.11L56.21 21.3L56.5 21.59L56.69 21.95L56.75 22.35L56.75 32.7L56.69 33.09L56.52 33.44L56.25 33.73L55.91 33.92L55.53 34L55.14 33.97L54.78 33.82L37.52 23.46L37.2 23.19L36.99 22.83L36.9 22.42L36.94 22L37.12 21.62L37.41 21.32L37.78 21.12Z"/><path d="M-55.95 40.2L-56.1 40.22L-56.24 40.3L-56.35 40.41L-56.43 40.55L-56.45 40.7L-56.45 91.59L-56.38 91.85L-56.29 91.96L-56.03 92.12L-55.93 92.24L-55.85 92.52L-55.85 102.6L-55.83 102.75L-55.75 102.89L-55.64 103L-55.5 103.08L-55.35 103.1L-53 103.1L-52.85 103.08L-52.71 103L-52.6 102.89L-52.52 102.75L-52.5 102.6L-52.5 92.52L-52.46 92.31L-52.32 92.12L-52.19 92.04L-51.98 92L-38.96 91.99L-38.15 91.87L-38 91.82L-37.31 91.46L-37.18 91.37L-36.63 90.82L-36.54 90.69L-36.18 90L-36.13 89.85L-36 88.96L-36 52.94L-36.13 52.05L-36.18 51.9L-36.54 51.21L-36.63 51.08L-37.18 50.53L-37.31 50.44L-38 50.08L-38.15 50.03L-39.04 49.9L-51.48 49.9L-51.76 49.82L-51.92 49.66L-52 49.38L-52 40.7L-52.02 40.55L-52.1 40.41L-52.21 40.3L-52.35 40.22L-52.5 40.2ZM55.95 40.2L56.1 40.22L56.24 40.3L56.35 40.41L56.43 40.55L56.45 40.7L56.45 91.59L56.38 91.85L56.29 91.96L56.03 92.12L55.93 92.24L55.85 92.52L55.85 102.6L55.83 102.75L55.75 102.89L55.64 103L55.5 103.08L55.35 103.1L53 103.1L52.85 103.08L52.71 103L52.6 102.89L52.52 102.75L52.5 102.6L52.5 92.52L52.46 92.31L52.32 92.12L52.19 92.04L51.98 92L38.96 91.99L38.15 91.87L38 91.82L37.31 91.46L37.18 91.37L36.63 90.82L36.54 90.69L36.18 90L36.13 89.85L36 88.96L36 52.94L36.13 52.05L36.18 51.9L36.54 51.21L36.63 51.08L37.18 50.53L37.31 50.44L38 50.08L38.15 50.03L39.04 49.9L51.48 49.9L51.76 49.82L51.92 49.66L52 49.38L52 40.7L52.02 40.55L52.1 40.41L52.21 40.3L52.35 40.22L52.5 40.2Z"/><path d="M-55.8 88.7L-46.3 88.7L-45.84 88.63L-45.42 88.41L-45.09 88.08L-44.87 87.66L-44.8 87.2L-44.8 55L-44.87 54.54L-45.09 54.12L-45.42 53.79L-45.84 53.57L-46.3 53.5L-55.8 53.5ZM55.8 88.7L46.3 88.7L45.84 88.63L45.42 88.41L45.09 88.08L44.87 87.66L44.8 87.2L44.8 55L44.87 54.54L45.09 54.12L45.42 53.79L45.84 53.57L46.3 53.5L55.8 53.5ZM-43.8 62.55L-43.8 66.1L-55.8 66.1L-55.8 62.55ZM43.8 62.55L43.8 66.1L55.8 66.1L55.8 62.55ZM-43.8 76.5L-43.8 80.1L-55.8 80.1L-55.8 76.5ZM43.8 76.5L43.8 80.1L55.8 80.1L55.8 76.5Z" stroke-width="1.575"/></g><path fill="#d2642d" d="M-43.8 70.7L-36 70.7L-36 52.7L-36.12 51.93L-36.48 51.23L-37.03 50.68L-37.73 50.32L-38.5 50.2L-43.8 50.2ZM43.8 70.7L36 70.7L36 52.7L36.12 51.93L36.48 51.23L37.03 50.68L37.73 50.32L38.5 50.2L43.8 50.2ZM-36 72.9L-43.8 72.9L-43.8 91.2L-38.5 91.2L-37.73 91.08L-37.03 90.72L-36.48 90.17L-36.12 89.47L-36 88.7ZM36 72.9L43.8 72.9L43.8 91.2L38.5 91.2L37.73 91.08L37.03 90.72L36.48 90.17L36.12 89.47L36 88.7Z"/><rect x="-30.90" y="16.80" width="61.80" height="9.80" fill="#3c3c3c"/></g><g id="d4"><use href="#pA2"/><rect x="-216.60" y="182.55" width="153.85" height="47.00" fill="#d3d3d3"/><rect x="62.75" y="182.55" width="156.15" height="47.00" fill="#d3d3d3"/><rect x="-64.25" y="182.55" width="1.50" height="46.75" fill="#b0b0b0"/><rect x="62.75" y="182.55" width="1.50" height="46.75" fill="#b0b0b0"/><rect x="-214.20" y="160.90" width="140.60" height="16.60" fill="#3c3c3c"/><rect x="72.80" y="160.90" width="140.80" height="16.60" fill="#3c3c3c"/><path fill="#3c3c3c" d="M-103.85 145.05L-99.45 150.05V182.60H-108.25V150.05Z"/><path fill="#3c3c3c" d="M102.10 145.05L106.50 150.05V182.60H97.70V150.05Z"/><path fill="#3c3c3c" d="M-164.75 177.30L-165.45 178.10L-164.75 178.90L-165.45 179.70L-164.75 180.50L-165.45 181.30L-164.75 182.10L-165.45 182.90L-164.75 183.70L-165.45 184.50L-164.75 185.30L-165.45 186.10L-164.75 186.90L-165.45 187.70L-164.75 188.50L-165.45 189.30L-164.75 190.10L-165.45 190.90L-164.75 191.70L-165.45 192.50L-164.75 193.30L-165.45 194.10L-164.75 194.90L-165.45 195.70L-164.75 196.50L-165.45 197.30L-164.75 198.10L-165.45 198.90L-164.75 199.70L-165.45 200.50L-164.75 201.30L-165.45 202.10L-164.75 202.90L-165.45 203.70L-164.75 204.50L-165.45 205.30L-164.75 206.10L-165.45 206.90L-164.75 207.70L-165.45 208.50L-164.75 209.30L-165.45 210.10L-164.75 210.90L-165.45 211.70L-164.75 212.50L-165.45 213.30L-164.75 214.10L-165.45 214.90L-164.75 215.70L-165.45 216.50L-164.75 217.30L-165.45 218.10L-164.75 218.90L-165.20 219.50L-174.20 219.50L-174.65 218.90L-173.95 218.10L-174.65 217.30L-173.95 216.50L-174.65 215.70L-173.95 214.90L-174.65 214.10L-173.95 213.30L-174.65 212.50L-173.95 211.70L-174.65 210.90L-173.95 210.10L-174.65 209.30L-173.95 208.50L-174.65 207.70L-173.95 206.90L-174.65 206.10L-173.95 205.30L-174.65 204.50L-173.95 203.70L-174.65 202.90L-173.95 202.10L-174.65 201.30L-173.95 200.50L-174.65 199.70L-173.95 198.90L-174.65 198.10L-173.95 197.30L-174.65 196.50L-173.95 195.70L-174.65 194.90L-173.95 194.10L-174.65 193.30L-173.95 192.50L-174.65 191.70L-173.95 190.90L-174.65 190.10L-173.95 189.30L-174.65 188.50L-173.95 187.70L-174.65 186.90L-173.95 186.10L-174.65 185.30L-173.95 184.50L-174.65 183.70L-173.95 182.90L-174.65 182.10L-173.95 181.30L-174.65 180.50L-173.95 179.70L-174.65 178.90L-173.95 178.10L-174.65 177.30Z"/><path fill="#d3d3d3" stroke="#3a3a3a" stroke-width="1.3" stroke-linejoin="round" d="M-177.80 218.90H-161.60V226.00Q-161.60 229.20 -164.80 229.20H-174.60Q-177.80 229.20 -177.80 226.00Z"/><path d="M-177.30 222.40H-162.10" stroke="#3a3a3a" stroke-width="1.2" fill="none"/><path fill="#3c3c3c" d="M166.65 177.30L165.95 178.10L166.65 178.90L165.95 179.70L166.65 180.50L165.95 181.30L166.65 182.10L165.95 182.90L166.65 183.70L165.95 184.50L166.65 185.30L165.95 186.10L166.65 186.90L165.95 187.70L166.65 188.50L165.95 189.30L166.65 190.10L165.95 190.90L166.65 191.70L165.95 192.50L166.65 193.30L165.95 194.10L166.65 194.90L165.95 195.70L166.65 196.50L165.95 197.30L166.65 198.10L165.95 198.90L166.65 199.70L165.95 200.50L166.65 201.30L165.95 202.10L166.65 202.90L165.95 203.70L166.65 204.50L165.95 205.30L166.65 206.10L165.95 206.90L166.65 207.70L165.95 208.50L166.65 209.30L165.95 210.10L166.65 210.90L165.95 211.70L166.65 212.50L165.95 213.30L166.65 214.10L165.95 214.90L166.65 215.70L165.95 216.50L166.65 217.30L165.95 218.10L166.65 218.90L166.20 219.50L157.20 219.50L156.75 218.90L157.45 218.10L156.75 217.30L157.45 216.50L156.75 215.70L157.45 214.90L156.75 214.10L157.45 213.30L156.75 212.50L157.45 211.70L156.75 210.90L157.45 210.10L156.75 209.30L157.45 208.50L156.75 207.70L157.45 206.90L156.75 206.10L157.45 205.30L156.75 204.50L157.45 203.70L156.75 202.90L157.45 202.10L156.75 201.30L157.45 200.50L156.75 199.70L157.45 198.90L156.75 198.10L157.45 197.30L156.75 196.50L157.45 195.70L156.75 194.90L157.45 194.10L156.75 193.30L157.45 192.50L156.75 191.70L157.45 190.90L156.75 190.10L157.45 189.30L156.75 188.50L157.45 187.70L156.75 186.90L157.45 186.10L156.75 185.30L157.45 184.50L156.75 183.70L157.45 182.90L156.75 182.10L157.45 181.30L156.75 180.50L157.45 179.70L156.75 178.90L157.45 178.10L156.75 177.30Z"/><path fill="#d3d3d3" stroke="#3a3a3a" stroke-width="1.3" stroke-linejoin="round" d="M153.60 218.90H169.80V226.00Q169.80 229.20 166.60 229.20H156.80Q153.60 229.20 153.60 226.00Z"/><path d="M154.10 222.40H169.30" stroke="#3a3a3a" stroke-width="1.2" fill="none"/></g></defs>
<rect x="136.3" y="119.15" width="2209.25" height="141.7" fill="#757575"/>
<use href="#pA" transform="translate(272.65 502.80)"/>
<rect x="473.00" y="670.85" width="141.00" height="16.85" fill="#3c3c3c"/>
<rect x="707.90" y="670.85" width="141.10" height="16.85" fill="#3c3c3c"/>
<g transform="translate(1134.30 509.35)"><use href="#pA2"/><rect x="-214.20" y="160.90" width="140.60" height="16.60" fill="#3c3c3c"/><rect x="72.80" y="160.90" width="140.80" height="16.60" fill="#3c3c3c"/><path fill="#3c3c3c" d="M-103.85 145.05L-99.45 150.05V184.60H-108.25V150.05Z"/><path fill="#fff" stroke="#3a3a3a" stroke-width="1.3" stroke-linejoin="round" d="M-111.50 184.45H-96.20V187.95Q-96.20 191.15 -99.40 191.15H-108.30Q-111.50 191.15 -111.50 187.95Z"/><path d="M-110.70 185.95H-97.00" stroke="#6a6a6a" stroke-width="1.6" fill="none"/><path fill="#3c3c3c" d="M102.10 145.05L106.50 150.05V184.60H97.70V150.05Z"/><path fill="#fff" stroke="#3a3a3a" stroke-width="1.3" stroke-linejoin="round" d="M94.45 184.45H109.75V187.95Q109.75 191.15 106.55 191.15H97.65Q94.45 191.15 94.45 187.95Z"/><path d="M95.25 185.95H108.95" stroke="#6a6a6a" stroke-width="1.6" fill="none"/></g>
<use href="#d4" transform="translate(1630.00 509.35)"/>
<use href="#d4" transform="translate(2121.80 502.40) scale(1.028 1.0324)"/>
<path d="M2049.70 769.80L2036.70 753.05" stroke="#454547" stroke-width="2.2" fill="none"/><path fill="#454547" d="M2027.20 740.80L2041.58 750.53L2033.05 757.15Z"/>
<path d="M2183.00 769.80L2195.70 753.44" stroke="#454547" stroke-width="2.2" fill="none"/><path fill="#454547" d="M2205.20 741.20L2199.35 757.55L2190.82 750.92Z"/>
<use href="#pB" transform="translate(361.75 1179.10)"/>
<rect x="639.80" y="1378.05" width="140.90" height="16.65" fill="#3c3c3c"/>
<rect x="914.90" y="1378.05" width="140.90" height="16.65" fill="#3c3c3c"/>
<g transform="translate(1428.60 1179.05)"><use href="#pB"/><rect x="-208.40" y="199.05" width="140.70" height="16.50" fill="#3c3c3c"/><rect x="66.90" y="199.05" width="140.30" height="16.50" fill="#3c3c3c"/><path fill="#3c3c3c" d="M-97.95 188.35L-93.55 192.45V225.00H-102.35V192.45Z"/><path fill="#fff" stroke="#3a3a3a" stroke-width="1.3" stroke-linejoin="round" d="M-105.75 224.75H-90.15V228.05Q-90.15 231.25 -93.35 231.25H-102.55Q-105.75 231.25 -105.75 228.05Z"/><path d="M-104.95 226.25H-90.95" stroke="#6a6a6a" stroke-width="1.6" fill="none"/><path fill="#3c3c3c" d="M100.50 188.35L104.90 192.45V225.00H96.10V192.45Z"/><path fill="#fff" stroke="#3a3a3a" stroke-width="1.3" stroke-linejoin="round" d="M92.70 224.75H108.30V228.05Q108.30 231.25 105.10 231.25H95.90Q92.70 231.25 92.70 228.05Z"/><path d="M93.50 226.25H107.50" stroke="#6a6a6a" stroke-width="1.6" fill="none"/></g>
<g transform="translate(2048.70 1174.80)"><g id="pB9"><g fill="#fff" stroke="#000" stroke-width="1.85" stroke-linejoin="round"><path d="M-56.29 113.46L-55.68 112.49L-55.31 112.08L-54.91 111.73L-54.78 111.56L-54.7 111.37L-54.68 111.16L-54.72 110.95L-54.82 110.77L-55.03 110.6L-41.26 110.6L-40.79 110.55L-40.28 110.37L-39.84 110.07L-39.68 109.91L-39.38 109.47L-39.27 109.19L-39.2 108.96L-39.17 108.43L-39.27 107.91L-39.38 107.63L-39.68 107.19L-40.08 106.85L-40.56 106.62L-40.79 106.55L-41.26 106.5L-46.63 106.49L-46.81 106.47L-47.07 106.36L-47.18 106.28L-47.36 106.07L-47.47 105.81L-47.5 105.56L-47.5 95.15L-47.54 94.87L-47.67 94.62L-47.87 94.42L-48.12 94.29L-48.4 94.25L-50.1 94.25L-50.38 94.29L-50.63 94.42L-50.83 94.62L-50.96 94.87L-51 95.15L-51 102.76L-51.08 103.14L-51.22 103.38L-51.32 103.48L-51.56 103.62L-51.94 103.7L-55.81 103.7L-56.19 103.62L-56.43 103.48L-56.61 103.27L-56.72 103.01L-56.75 102.76L-56.75 40.24L-56.72 39.99L-56.61 39.73L-56.43 39.52L-56.32 39.44L-56.06 39.33L-55.81 39.3L-51.89 39.3L-51.51 39.38L-51.27 39.52L-51.17 39.62L-51.03 39.86L-50.95 40.24L-50.95 48.4L-50.91 48.68L-50.78 48.93L-50.58 49.13L-50.33 49.26L-50.05 49.3L-48.3 49.3L-48.02 49.26L-47.77 49.13L-47.57 48.93L-47.44 48.68L-47.4 48.4L-47.4 36.89L-47.28 36.51L-47.11 36.3L-46.92 36.16L-35.14 29.42L-34.92 29.33L-34.66 29.29L-34.39 29.33L-34.05 29.53L-33.83 29.86L-33.76 30.15L-33.76 36.35L-33.72 36.63L-33.59 36.88L-33.39 37.08L-33.14 37.21L-32.86 37.25L-27.85 37.25L-27.57 37.21L-27.32 37.08L-27.12 36.88L-26.99 36.63L-26.95 36.35L-26.95 30.74L-26.87 30.36L-26.81 30.23L-26.63 30.02L-26.52 29.94L-26.26 29.83L-26.01 29.8L-23.3 29.8L-23.02 29.76L-22.77 29.63L-22.57 29.43L-22.44 29.18L-22.4 28.9L-22.4 24.94L-22.37 24.69L-22.26 24.43L-22.08 24.22L-21.84 24.08L-21.46 24L21.46 24L21.84 24.08L22.08 24.22L22.26 24.43L22.37 24.69L22.39 24.87L22.4 28.9L22.44 29.18L22.57 29.43L22.77 29.63L23.02 29.76L23.3 29.8L26.01 29.8L26.26 29.83L26.52 29.94L26.63 30.02L26.81 30.23L26.87 30.36L26.95 30.74L26.95 36.35L26.99 36.63L27.12 36.88L27.32 37.08L27.57 37.21L27.85 37.25L32.86 37.25L33.14 37.21L33.39 37.08L33.59 36.88L33.72 36.63L33.76 36.35L33.76 30.15L33.83 29.86L34.05 29.53L34.39 29.33L34.66 29.29L34.92 29.33L35.14 29.42L46.92 36.16L47.11 36.3L47.28 36.51L47.4 36.89L47.4 48.4L47.44 48.68L47.57 48.93L47.77 49.13L48.02 49.26L48.3 49.3L50.05 49.3L50.33 49.26L50.58 49.13L50.78 48.93L50.91 48.68L50.95 48.4L50.95 40.24L51.03 39.86L51.17 39.62L51.27 39.52L51.51 39.38L51.89 39.3L55.81 39.3L56.06 39.33L56.32 39.44L56.53 39.62L56.61 39.73L56.72 39.99L56.75 40.24L56.75 102.76L56.72 103.01L56.61 103.27L56.43 103.48L56.19 103.62L55.81 103.7L51.94 103.7L51.56 103.62L51.32 103.48L51.22 103.38L51.08 103.14L51 102.76L51 95.15L50.96 94.87L50.83 94.62L50.63 94.42L50.38 94.29L50.1 94.25L48.4 94.25L48.12 94.29L47.87 94.42L47.67 94.62L47.54 94.87L47.5 95.15L47.5 105.56L47.47 105.81L47.36 106.07L47.18 106.28L47.07 106.36L46.81 106.47L46.63 106.49L41.26 106.5L40.79 106.55L40.56 106.62L40.28 106.73L39.84 107.03L39.5 107.43L39.27 107.91L39.17 108.43L39.17 108.67L39.2 108.96L39.38 109.47L39.68 109.91L39.84 110.07L40.28 110.37L40.56 110.48L41.14 110.59L55.03 110.6L54.82 110.77L54.72 110.95L54.68 111.16L54.7 111.37L54.78 111.56L54.91 111.73L55.31 112.08L55.69 112.51L56.29 113.46L56.45 113.59L56.65 113.67L56.75 113.67L56.75 117.13L56.65 117.13L56.45 117.21L56.29 117.34L55.69 118.29L55.28 118.75L54.85 119.13L54.28 119.51L53.75 119.77L53.2 119.95L52.53 120.08L51.94 120.12L51.37 120.08L50.7 119.94L50.13 119.75L49.62 119.5L49.07 119.13L48.59 118.7L48.23 118.29L47.9 117.8L47.45 116.88L47.3 116.73L47.1 116.63L46.89 116.6L44.3 116.6L44.1 116.63L43.91 116.72L43.76 116.86L43.66 117.03L43.61 117.23L43.67 117.67L44.03 118.73L44.54 119.74L45.17 120.67L45.91 121.51L46.76 122.25L47.7 122.87L48.63 123.33L49.69 123.69L50.79 123.92L52.01 124L53.04 123.93L54.14 123.72L55.21 123.36L56.08 122.96L56.25 122.94L56.63 123.08L56.75 123.1L56.75 228.9L56.79 229.18L56.92 229.43L57.12 229.63L57.37 229.76L57.65 229.8L62.9 229.8L63.18 229.76L63.43 229.63L63.63 229.43L63.76 229.18L63.8 228.9L63.8 222.6L65.24 222.6L65.34 222.56L66.81 221.13L66.96 221.05L67.12 221.06L67.26 221.16L68.8 223.08L70.32 221.2L70.46 221.1L70.64 221.1L70.78 221.2L72.3 223.08L73.82 221.2L73.96 221.1L74.14 221.1L74.28 221.2L75.8 223.08L77.32 221.2L77.46 221.1L77.64 221.1L77.78 221.2L79.3 223.08L80.82 221.2L80.96 221.1L81.14 221.1L81.28 221.2L82.8 223.08L84.32 221.2L84.46 221.1L84.64 221.1L84.78 221.2L86.3 223.08L87.82 221.2L87.96 221.1L88.14 221.1L88.28 221.2L89.8 223.08L91.32 221.2L91.46 221.1L91.64 221.1L91.78 221.2L93.3 223.08L94.82 221.2L94.96 221.1L95.14 221.1L95.28 221.2L96.8 223.08L98.32 221.2L98.46 221.1L98.64 221.1L98.78 221.2L100.3 223.08L101.82 221.2L101.96 221.1L102.14 221.1L102.28 221.2L103.8 223.08L105.32 221.2L105.46 221.1L105.64 221.1L105.78 221.2L107.3 223.08L108.82 221.2L108.96 221.1L109.14 221.1L109.28 221.2L110.8 223.08L112.32 221.2L112.46 221.1L112.64 221.1L112.78 221.2L114.3 223.08L115.82 221.2L115.96 221.1L116.14 221.1L116.28 221.2L117.8 223.08L119.32 221.2L119.46 221.1L119.64 221.1L119.78 221.2L121.3 223.08L122.82 221.2L122.96 221.1L123.14 221.1L123.28 221.2L124.8 223.08L126.32 221.2L126.46 221.1L126.64 221.1L126.78 221.2L128.3 223.08L129.7 221.34L129.83 221.25L129.99 221.23L130.13 221.3L130.22 221.44L130.76 223.09L134.74 223.09L134.75 217.09L134.71 217.05L63.8 217.05L63.8 188.54L63.88 188.16L64.02 187.92L64.23 187.74L64.49 187.63L64.74 187.6L72.9 187.6L73.18 187.56L73.43 187.43L73.63 187.23L73.76 186.98L73.8 186.7L73.8 170.7L73.76 170.42L73.63 170.17L73.43 169.97L73.18 169.84L72.9 169.8L70.45 169.8L70.17 169.84L69.92 169.97L69.72 170.17L69.59 170.42L69.55 170.7L69.55 182.46L69.52 182.71L69.41 182.97L69.33 183.08L69.12 183.26L68.86 183.37L68.68 183.39L64.74 183.4L64.36 183.32L64.12 183.18L63.94 182.97L63.83 182.71L63.8 182.46L63.81 129.57L63.88 129.26L64.02 129.02L64.23 128.84L64.36 128.78L64.67 128.71L68.33 128.71L68.51 128.73L68.77 128.84L68.98 129.02L69.06 129.13L69.17 129.39L69.2 129.64L69.2 142.3L69.24 142.58L69.37 142.83L69.57 143.03L69.82 143.16L70.1 143.2L73.3 143.2L73.58 143.16L73.83 143.03L74.03 142.83L74.16 142.58L74.2 142.3L74.2 125.2L74.16 124.92L74.03 124.67L73.83 124.47L73.58 124.34L73.3 124.3L64.67 124.29L64.36 124.22L64.12 124.08L64.02 123.98L63.88 123.74L63.81 123.43L63.8 0.65L63.76 0.37L63.63 0.12L63.43 -0.08L63.18 -0.21L62.9 -0.25L48.6 -0.25L48.32 -0.21L48.07 -0.08L47.87 0.12L47.74 0.37L47.7 0.65L47.7 4.15L47.74 4.43L47.87 4.68L48.07 4.88L48.32 5.01L48.6 5.05L55.88 5.06L56.06 5.08L56.32 5.19L56.53 5.37L56.67 5.61L56.75 5.99L56.75 16.56L56.67 16.94L56.53 17.18L56.43 17.28L56.19 17.42L55.81 17.5L37.34 17.5L37.09 17.47L36.83 17.36L36.62 17.18L36.54 17.07L36.43 16.81L36.4 16.56L36.4 13.5L36.36 13.22L36.23 12.97L36.03 12.77L35.78 12.64L35.5 12.6L-35.5 12.6L-35.78 12.64L-36.03 12.77L-36.23 12.97L-36.36 13.22L-36.4 13.5L-36.4 16.56L-36.43 16.81L-36.54 17.07L-36.62 17.18L-36.83 17.36L-37.09 17.47L-37.34 17.5L-55.88 17.49L-56.19 17.42L-56.43 17.28L-56.53 17.18L-56.67 16.94L-56.75 16.56L-56.75 5.99L-56.67 5.61L-56.53 5.37L-56.32 5.19L-56.06 5.08L-55.88 5.06L-48.6 5.05L-48.32 5.01L-48.07 4.88L-47.87 4.68L-47.74 4.43L-47.7 4.15L-47.7 0.65L-47.74 0.37L-47.87 0.12L-48.07 -0.08L-48.32 -0.21L-48.6 -0.25L-62.9 -0.25L-63.18 -0.21L-63.43 -0.08L-63.63 0.12L-63.76 0.37L-63.8 0.65L-63.81 123.43L-63.88 123.74L-64.02 123.98L-64.12 124.08L-64.36 124.22L-64.67 124.29L-73.3 124.3L-73.58 124.34L-73.83 124.47L-74.03 124.67L-74.16 124.92L-74.2 125.2L-74.2 142.3L-74.16 142.58L-74.03 142.83L-73.83 143.03L-73.58 143.16L-73.3 143.2L-70.1 143.2L-69.82 143.16L-69.57 143.03L-69.37 142.83L-69.24 142.58L-69.2 142.3L-69.2 129.64L-69.17 129.39L-69.06 129.13L-68.98 129.02L-68.77 128.84L-68.51 128.73L-68.33 128.71L-64.67 128.71L-64.36 128.78L-64.23 128.84L-64.02 129.02L-63.88 129.26L-63.81 129.57L-63.8 182.46L-63.83 182.71L-63.94 182.97L-64.12 183.18L-64.36 183.32L-64.74 183.4L-68.68 183.39L-68.86 183.37L-69.12 183.26L-69.33 183.08L-69.41 182.97L-69.52 182.71L-69.55 182.46L-69.55 170.7L-69.59 170.42L-69.72 170.17L-69.92 169.97L-70.17 169.84L-70.45 169.8L-72.9 169.8L-73.18 169.84L-73.43 169.97L-73.63 170.17L-73.76 170.42L-73.8 170.7L-73.8 186.7L-73.76 186.98L-73.63 187.23L-73.43 187.43L-73.18 187.56L-72.9 187.6L-64.74 187.6L-64.49 187.63L-64.23 187.74L-64.02 187.92L-63.88 188.16L-63.8 188.54L-63.8 217.05L-134.71 217.05L-134.75 217.09L-134.74 223.09L-130.76 223.09L-130.22 221.44L-130.13 221.3L-129.99 221.23L-129.83 221.25L-129.7 221.34L-128.3 223.08L-126.78 221.2L-126.64 221.1L-126.46 221.1L-126.32 221.2L-124.8 223.08L-123.28 221.2L-123.14 221.1L-122.96 221.1L-122.82 221.2L-121.3 223.08L-119.78 221.2L-119.64 221.1L-119.46 221.1L-119.32 221.2L-117.8 223.08L-116.28 221.2L-116.14 221.1L-115.96 221.1L-115.82 221.2L-114.3 223.08L-112.78 221.2L-112.64 221.1L-112.46 221.1L-112.32 221.2L-110.8 223.08L-109.28 221.2L-109.14 221.1L-108.96 221.1L-108.82 221.2L-107.3 223.08L-105.78 221.2L-105.64 221.1L-105.46 221.1L-105.32 221.2L-103.8 223.08L-102.28 221.2L-102.14 221.1L-101.96 221.1L-101.82 221.2L-100.3 223.08L-98.78 221.2L-98.64 221.1L-98.46 221.1L-98.32 221.2L-96.8 223.08L-95.28 221.2L-95.14 221.1L-94.96 221.1L-94.82 221.2L-93.3 223.08L-91.78 221.2L-91.64 221.1L-91.46 221.1L-91.32 221.2L-89.8 223.08L-88.28 221.2L-88.14 221.1L-87.96 221.1L-87.82 221.2L-86.3 223.08L-84.78 221.2L-84.64 221.1L-84.46 221.1L-84.32 221.2L-82.8 223.08L-81.28 221.2L-81.14 221.1L-80.96 221.1L-80.82 221.2L-79.3 223.08L-77.78 221.2L-77.64 221.1L-77.46 221.1L-77.32 221.2L-75.8 223.08L-74.28 221.2L-74.14 221.1L-73.96 221.1L-73.82 221.2L-72.3 223.08L-70.78 221.2L-70.64 221.1L-70.46 221.1L-70.32 221.2L-68.8 223.08L-67.26 221.16L-67.12 221.06L-66.96 221.05L-66.81 221.13L-65.34 222.56L-65.24 222.6L-63.8 222.6L-63.8 228.9L-63.76 229.18L-63.63 229.43L-63.43 229.63L-63.18 229.76L-62.9 229.8L-57.65 229.8L-57.37 229.76L-57.12 229.63L-56.92 229.43L-56.79 229.18L-56.75 228.9L-56.75 123.1L-56.63 123.08L-56.25 122.94L-56.08 122.96L-55.21 123.36L-54.14 123.72L-53.04 123.93L-52.01 124L-50.79 123.92L-49.69 123.69L-48.63 123.33L-47.7 122.87L-46.76 122.25L-45.91 121.51L-45.17 120.67L-44.54 119.74L-44.03 118.73L-43.67 117.67L-43.61 117.23L-43.66 117.03L-43.76 116.86L-43.91 116.72L-44.1 116.63L-44.3 116.6L-46.89 116.6L-47.1 116.63L-47.3 116.73L-47.45 116.88L-47.9 117.8L-48.23 118.29L-48.59 118.7L-49.07 119.13L-49.62 119.5L-50.13 119.75L-50.7 119.94L-51.37 120.08L-51.94 120.12L-52.53 120.08L-53.22 119.94L-53.79 119.75L-54.28 119.51L-54.85 119.13L-55.28 118.75L-55.69 118.29L-56.29 117.34L-56.45 117.21L-56.65 117.13L-56.75 117.13L-56.75 113.67L-56.65 113.67L-56.45 113.59ZM-37.41 21.32L-37.12 21.62L-36.94 22L-36.9 22.42L-36.99 22.83L-37.2 23.19L-37.52 23.46L-54.78 33.82L-55.14 33.97L-55.53 34L-55.91 33.92L-56.25 33.73L-56.52 33.44L-56.69 33.09L-56.75 32.7L-56.75 22.35L-56.69 21.95L-56.5 21.59L-56.21 21.3L-55.85 21.11L-55.45 21.05L-38.19 21.05L-37.78 21.12ZM38.19 21.05L55.45 21.05L55.85 21.11L56.21 21.3L56.5 21.59L56.69 21.95L56.75 22.35L56.75 32.7L56.69 33.09L56.52 33.44L56.25 33.73L55.91 33.92L55.53 34L55.14 33.97L54.78 33.82L37.52 23.46L37.2 23.19L36.99 22.83L36.9 22.42L36.94 22L37.12 21.62L37.41 21.32L37.78 21.12Z"/><path d="M-55.95 40.2L-56.1 40.22L-56.24 40.3L-56.35 40.41L-56.43 40.55L-56.45 40.7L-56.45 91.59L-56.38 91.85L-56.29 91.96L-56.03 92.12L-55.93 92.24L-55.85 92.52L-55.85 102.6L-55.83 102.75L-55.75 102.89L-55.64 103L-55.5 103.08L-55.35 103.1L-53 103.1L-52.85 103.08L-52.71 103L-52.6 102.89L-52.52 102.75L-52.5 102.6L-52.5 92.52L-52.46 92.31L-52.32 92.12L-52.19 92.04L-51.98 92L-38.96 91.99L-38.15 91.87L-38 91.82L-37.31 91.46L-37.18 91.37L-36.63 90.82L-36.54 90.69L-36.18 90L-36.13 89.85L-36 88.96L-36 52.94L-36.13 52.05L-36.18 51.9L-36.54 51.21L-36.63 51.08L-37.18 50.53L-37.31 50.44L-38 50.08L-38.15 50.03L-39.04 49.9L-51.48 49.9L-51.76 49.82L-51.92 49.66L-52 49.38L-52 40.7L-52.02 40.55L-52.1 40.41L-52.21 40.3L-52.35 40.22L-52.5 40.2ZM55.95 40.2L56.1 40.22L56.24 40.3L56.35 40.41L56.43 40.55L56.45 40.7L56.45 91.59L56.38 91.85L56.29 91.96L56.03 92.12L55.93 92.24L55.85 92.52L55.85 102.6L55.83 102.75L55.75 102.89L55.64 103L55.5 103.08L55.35 103.1L53 103.1L52.85 103.08L52.71 103L52.6 102.89L52.52 102.75L52.5 102.6L52.5 92.52L52.46 92.31L52.32 92.12L52.19 92.04L51.98 92L38.96 91.99L38.15 91.87L38 91.82L37.31 91.46L37.18 91.37L36.63 90.82L36.54 90.69L36.18 90L36.13 89.85L36 88.96L36 52.94L36.13 52.05L36.18 51.9L36.54 51.21L36.63 51.08L37.18 50.53L37.31 50.44L38 50.08L38.15 50.03L39.04 49.9L51.48 49.9L51.76 49.82L51.92 49.66L52 49.38L52 40.7L52.02 40.55L52.1 40.41L52.21 40.3L52.35 40.22L52.5 40.2Z"/><path d="M-55.8 88.7L-46.3 88.7L-45.84 88.63L-45.42 88.41L-45.09 88.08L-44.87 87.66L-44.8 87.2L-44.8 55L-44.87 54.54L-45.09 54.12L-45.42 53.79L-45.84 53.57L-46.3 53.5L-55.8 53.5ZM55.8 88.7L46.3 88.7L45.84 88.63L45.42 88.41L45.09 88.08L44.87 87.66L44.8 87.2L44.8 55L44.87 54.54L45.09 54.12L45.42 53.79L45.84 53.57L46.3 53.5L55.8 53.5ZM-43.8 62.55L-43.8 66.1L-55.8 66.1L-55.8 62.55ZM43.8 62.55L43.8 66.1L55.8 66.1L55.8 62.55ZM-43.8 76.5L-43.8 80.1L-55.8 80.1L-55.8 76.5ZM43.8 76.5L43.8 80.1L55.8 80.1L55.8 76.5Z" stroke-width="1.665"/></g><path fill="#cf6a35" d="M-43.8 70.7L-36 70.7L-36 52.7L-36.12 51.93L-36.48 51.23L-37.03 50.68L-37.73 50.32L-38.5 50.2L-43.8 50.2ZM43.8 70.7L36 70.7L36 52.7L36.12 51.93L36.48 51.23L37.03 50.68L37.73 50.32L38.5 50.2L43.8 50.2ZM-36 72.9L-43.8 72.9L-43.8 91.2L-38.5 91.2L-37.73 91.08L-37.03 90.72L-36.48 90.17L-36.12 89.47L-36 88.7ZM36 72.9L43.8 72.9L43.8 91.2L38.5 91.2L37.73 91.08L37.03 90.72L36.48 90.17L36.12 89.47L36 88.7Z"/><rect x="-30.45" y="17.4" width="60.95" height="9.3" fill="#000"/><rect x="-27.85" y="19.8" width="55.45" height="3.2" fill="#fff"/><path d="M-28 24.55H27.8" stroke="#666" stroke-width="0.5" fill="none"/></g><path fill="#000" d="M-97.75 188.20L-93.80 192.00V223.80H-101.70V192.00Z"/><ellipse cx="-97.75" cy="230.10" rx="7.6" ry="1.7" fill="#5a5a5a"/><path fill="#000" d="M100.40 188.20L104.35 192.00V223.80H96.45V192.00Z"/><ellipse cx="100.40" cy="230.10" rx="7.6" ry="1.7" fill="#5a5a5a"/><rect x="-206.70" y="200.50" width="137.30" height="12.40" fill="#414143"/><rect x="69.20" y="200.50" width="136.50" height="12.40" fill="#414143"/><rect x="-206.70" y="223.30" width="140.80" height="6.60" fill="#9e9f9f"/><rect x="65.80" y="223.30" width="140.30" height="6.60" fill="#9e9f9f"/></g>
<path d="M1989.30 1434.10L1977.40 1418.75" stroke="#454547" stroke-width="2.2" fill="none"/><path fill="#454547" d="M1967.90 1406.50L1982.28 1416.23L1973.74 1422.85Z"/>
<path d="M2122.50 1434.10L2134.49 1419.18" stroke="#454547" stroke-width="2.2" fill="none"/><path fill="#454547" d="M2144.20 1407.10L2138.07 1423.34L2129.65 1416.58Z"/>
<text x="185.83" y="215.27" font-size="66.67" font-weight="700" fill="#fff">磁吸轨道安装步骤</text>
<text x="155.71" y="389.40" font-size="41.67" font-weight="700" fill="#312b2c">嵌入式预埋款</text>
<text x="151.56" y="1087.69" font-size="41.67" font-weight="700" fill="#312b2c">嵌入式批灰款</text>
<text x="551.30" y="866.50" font-size="41.67" fill="#312b2c">天花板开槽</text>
<text x="967.74" y="844.91" font-size="41.67" fill="#312b2c">将轨道放入槽内，</text>
<text x="967.16" y="901.47" font-size="41.67" fill="#312b2c">并用自攻螺丝将轨</text>
<text x="967.74" y="957.84" font-size="41.67" fill="#312b2c">道固定在天花板上</text>
<text x="1458.87" y="839.24" font-size="41.67" fill="#312b2c">石膏板装在轨道上，</text>
<text x="1469.96" y="893.66" font-size="41.67" fill="#312b2c">挡住轨道两翼边，</text>
<text x="1490.76" y="946.55" font-size="41.67" fill="#312b2c">并用螺丝固定</text>
<text x="1998.47" y="854.55" font-size="41.67" fill="#312b2c">石膏表面批灰</text>
<text x="2056.72" y="782.63" font-size="30" fill="#0a0a0a">表面批灰</text>
<text x="739.80" y="1535.65" font-size="41.67" fill="#312b2c">天花板开槽</text>
<text x="1286.04" y="1517.46" font-size="41.67" fill="#312b2c">将轨道放入槽内，</text>
<text x="1271.86" y="1574.27" font-size="41.67" fill="#312b2c">并用自攻螺丝将轨</text>
<text x="1272.44" y="1627.64" font-size="41.67" fill="#312b2c">道固定在天花板上</text>
<text x="1996.32" y="1448.13" font-size="30" fill="#0a0a0a">表面批灰</text>
<text x="1860.34" y="1529.26" font-size="41.67" fill="#312b2c">轨道表面进行批灰，</text>
<text x="1860.51" y="1581.94" font-size="41.67" fill="#312b2c">覆盖外露的两翼边</text>
</svg>
</body></html>
